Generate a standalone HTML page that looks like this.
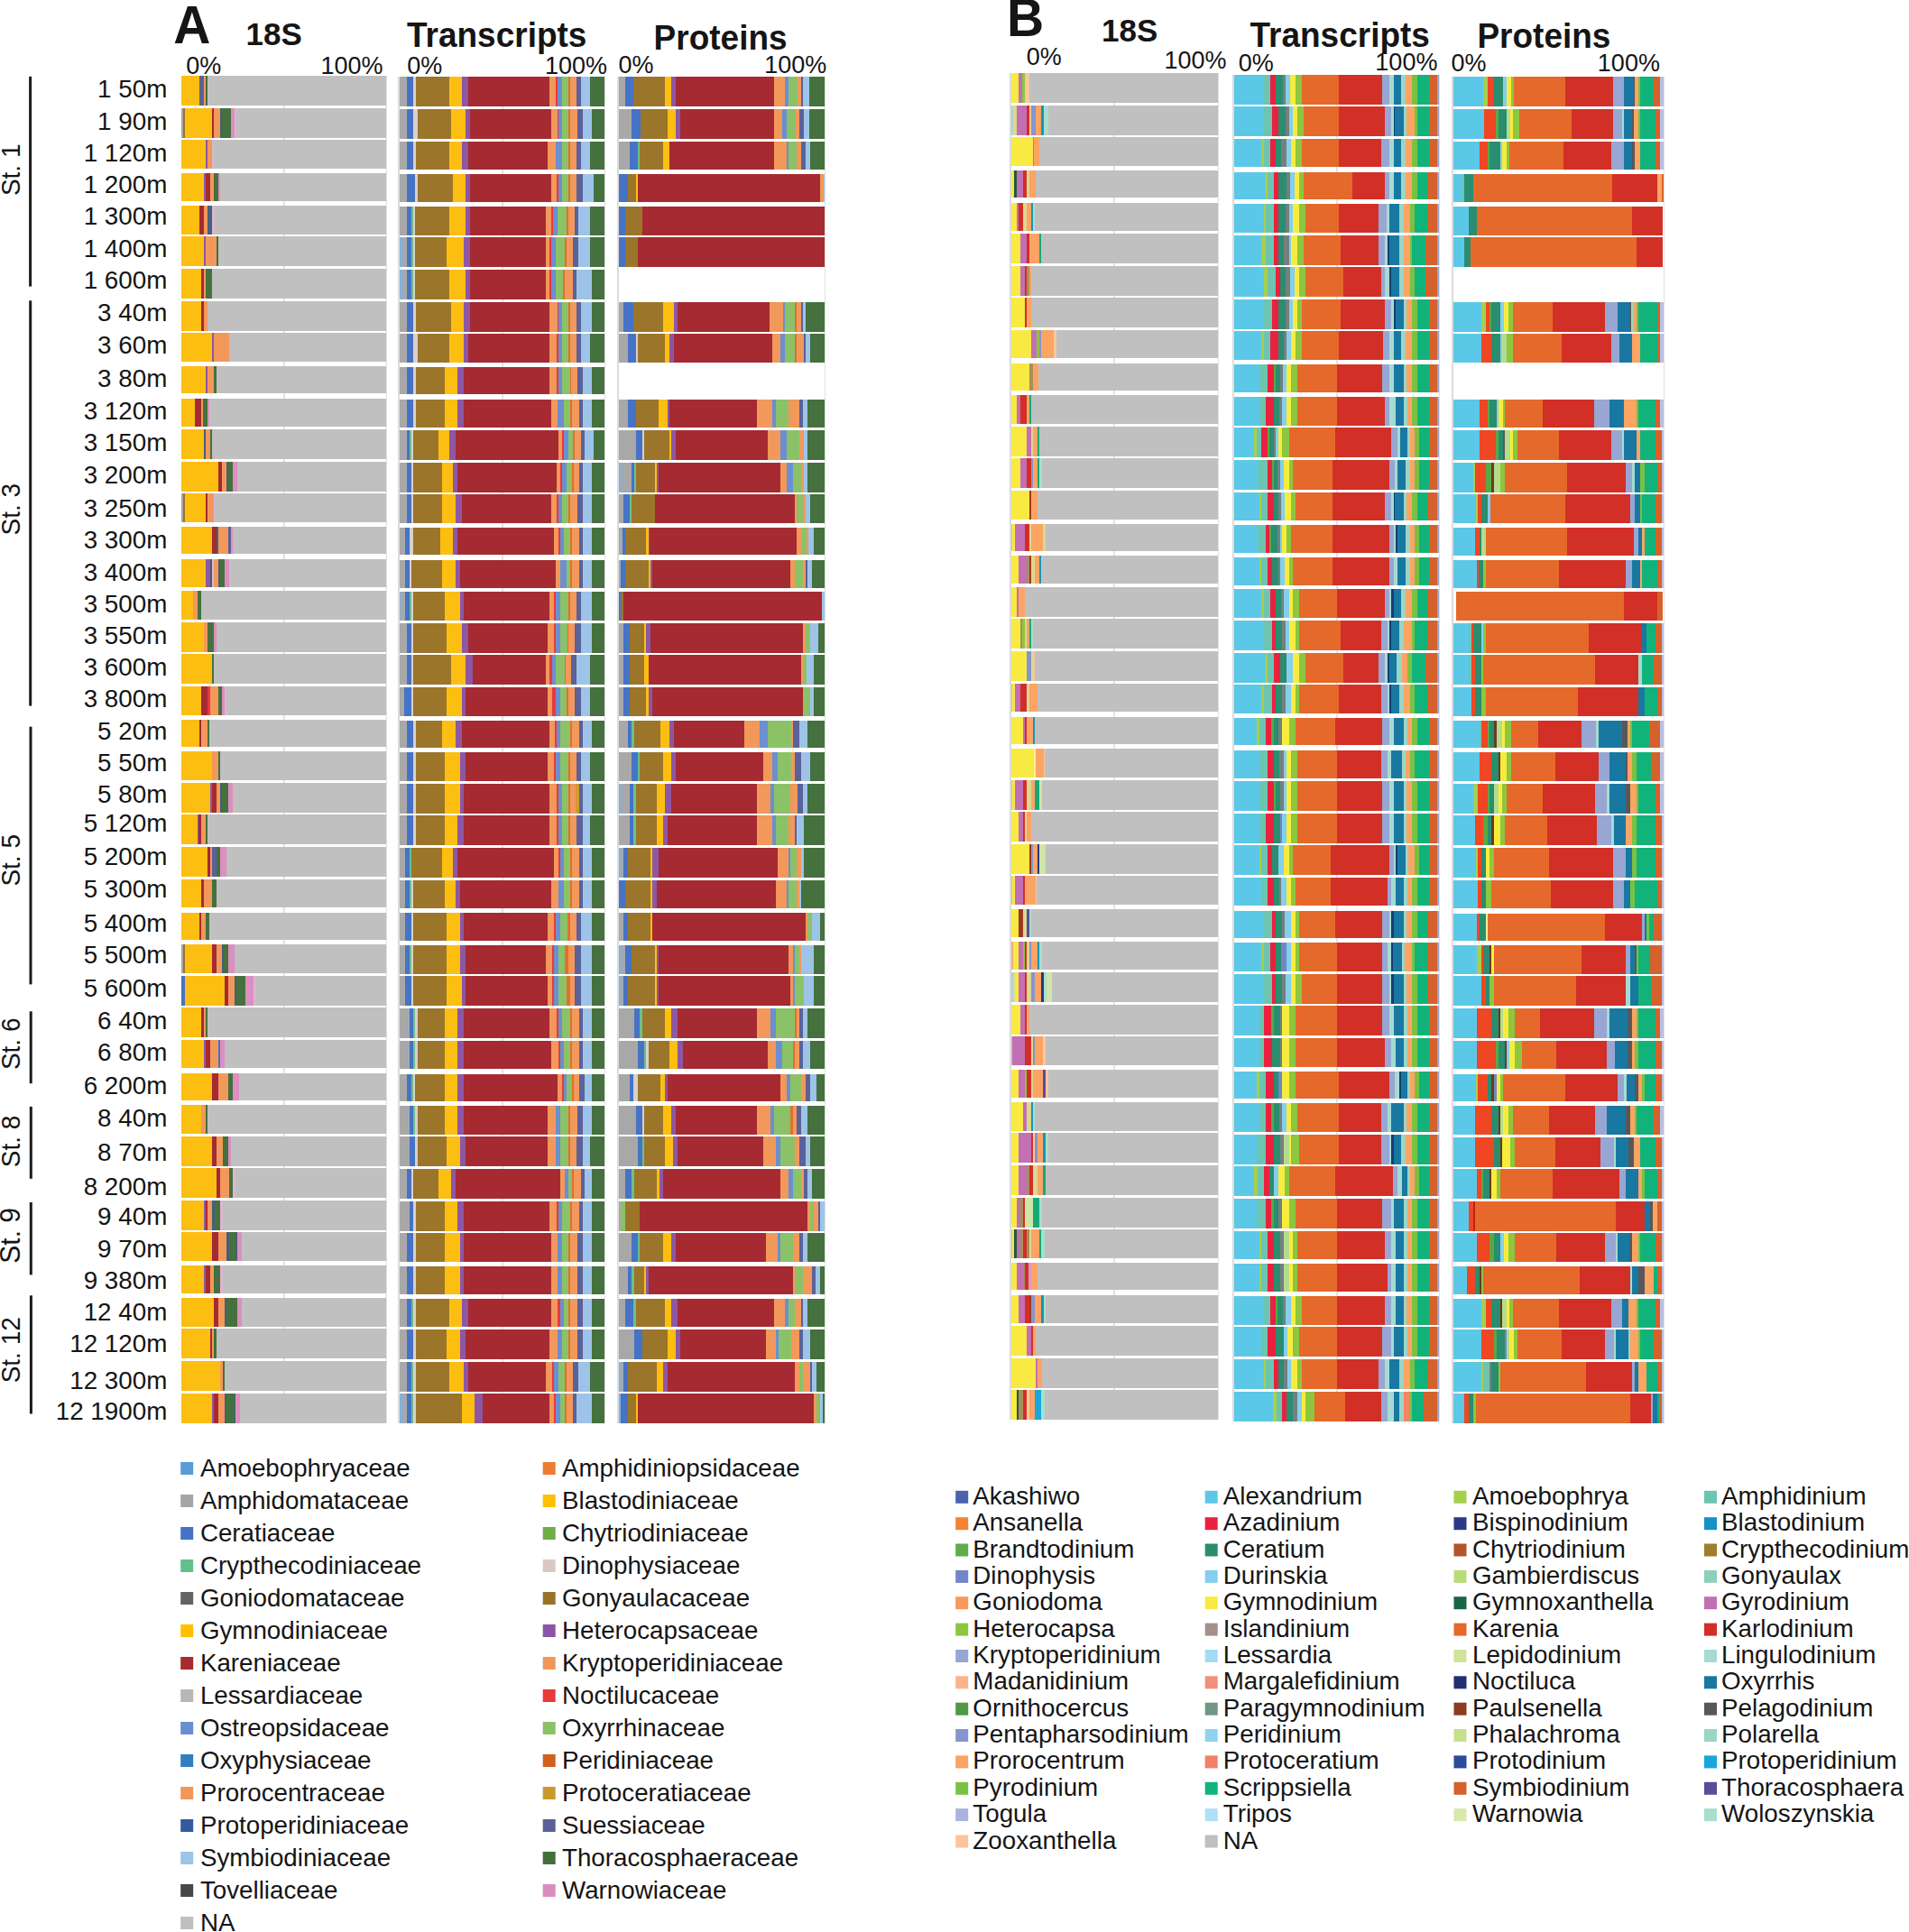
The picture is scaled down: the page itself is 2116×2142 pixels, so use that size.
<!DOCTYPE html>
<html><head><meta charset="utf-8"><title>Figure</title>
<style>
html,body{margin:0;padding:0;background:#fff}
#c{position:relative;width:2116px;height:2142px;overflow:hidden;background:#fff;font-family:"Liberation Sans",Arial,sans-serif}
.r{position:absolute}
.pf{position:absolute;box-sizing:border-box;border-left:2px solid #dcdcdc;border-right:1px solid #e0e0e0;background:linear-gradient(90deg,transparent calc(50% - 1px),#e2e2e2 calc(50% - 1px),#e2e2e2 calc(50% + 1px),transparent calc(50% + 1px))}
.pn{background:none}
.pa{border-left-color:transparent}
</style></head><body><div id="c">
<div class="pf pa" style="left:199.0px;top:84.2px;width:229.8px;height:1493.3px"></div>
<div class="r" style="left:201.0px;top:84.2px;width:226.8px;height:33.0px;background:linear-gradient(90deg,#fdbe12 0.0px 20.0px,#5b6199 20.0px 24.8px,#f2985b 24.8px 26.9px,#44713d 26.9px 28.9px,#c0c0c0 28.9px)"></div>
<div class="r" style="left:201.0px;top:119.8px;width:226.8px;height:33.0px;background:linear-gradient(90deg,#a6a6a6 0.0px 2.5px,#9b752a 2.5px 3.7px,#fdbe12 3.7px 34.0px,#a52a31 34.0px 36.0px,#f2985b 36.0px 43.1px,#44607a 43.1px 45.1px,#44713d 45.1px 54.5px,#dc8fc0 54.5px 59.3px,#dcb6cf 59.3px 60.9px,#c0c0c0 60.9px)"></div>
<div class="r" style="left:201.0px;top:155.4px;width:226.8px;height:31.7px;background:linear-gradient(90deg,#fdbe12 0.0px 27.1px,#8d57a4 27.1px 28.9px,#f2985b 28.9px 34.2px,#dcb6cf 34.2px 35.4px,#c0c0c0 35.4px)"></div>
<div class="r" style="left:201.0px;top:192.3px;width:226.8px;height:30.4px;background:linear-gradient(90deg,#fdbe12 0.0px 24.8px,#8d57a4 24.8px 26.9px,#a52a31 26.9px 31.9px,#f2985b 31.9px 36.0px,#44713d 36.0px 41.1px,#dc8fc0 41.1px 43.1px,#c0c0c0 43.1px)"></div>
<div class="r" style="left:201.0px;top:228.0px;width:226.8px;height:31.7px;background:linear-gradient(90deg,#fdbe12 0.0px 20.0px,#a52a31 20.0px 24.8px,#f2985b 24.8px 28.9px,#44607a 28.9px 34.0px,#dcb6cf 34.0px 36.6px,#c0c0c0 36.6px)"></div>
<div class="r" style="left:201.0px;top:262.3px;width:226.8px;height:33.0px;background:linear-gradient(90deg,#fdbe12 0.0px 24.8px,#8d57a4 24.8px 26.9px,#f2985b 26.9px 39.0px,#44713d 39.0px 41.1px,#c0c0c0 41.1px)"></div>
<div class="r" style="left:201.0px;top:297.9px;width:226.8px;height:33.0px;background:linear-gradient(90deg,#fdbe12 0.0px 22.4px,#a52a31 22.4px 24.8px,#f2985b 24.8px 27.1px,#44713d 27.1px 34.0px,#c0c0c0 34.0px)"></div>
<div class="r" style="left:201.0px;top:333.5px;width:226.8px;height:33.0px;background:linear-gradient(90deg,#fdbe12 0.0px 22.4px,#a52a31 22.4px 24.8px,#f2985b 24.8px 29.5px,#c0c0c0 29.5px)"></div>
<div class="r" style="left:201.0px;top:369.1px;width:226.8px;height:31.7px;background:linear-gradient(90deg,#fdbe12 0.0px 34.0px,#8d57a4 34.0px 36.0px,#f2985b 36.0px 52.8px,#c0c0c0 52.8px)"></div>
<div class="r" style="left:201.0px;top:406.0px;width:226.8px;height:30.4px;background:linear-gradient(90deg,#fdbe12 0.0px 27.1px,#8d57a4 27.1px 28.9px,#f2985b 28.9px 36.2px,#44713d 36.2px 38.6px,#c0c0c0 38.6px)"></div>
<div class="r" style="left:201.0px;top:441.7px;width:226.8px;height:31.7px;background:linear-gradient(90deg,#fdbe12 0.0px 15.3px,#a52a31 15.3px 22.0px,#f2985b 22.0px 24.4px,#44713d 24.4px 28.9px,#dc8fc0 28.9px 31.5px,#c0c0c0 31.5px)"></div>
<div class="r" style="left:201.0px;top:476.0px;width:226.8px;height:33.0px;background:linear-gradient(90deg,#fdbe12 0.0px 24.8px,#44607a 24.8px 26.9px,#f2985b 26.9px 31.9px,#44713d 31.9px 34.0px,#c0c0c0 34.0px)"></div>
<div class="r" style="left:201.0px;top:511.6px;width:226.8px;height:33.0px;background:linear-gradient(90deg,#fdbe12 0.0px 41.1px,#a52a31 41.1px 45.1px,#f2985b 45.1px 50.2px,#44607a 50.2px 52.2px,#44713d 52.2px 57.3px,#dc8fc0 57.3px 62.0px,#c0c0c0 62.0px)"></div>
<div class="r" style="left:201.0px;top:547.2px;width:226.8px;height:31.7px;background:linear-gradient(90deg,#a6a6a6 0.0px 2.5px,#9b752a 2.5px 3.7px,#fdbe12 3.7px 27.1px,#a52a31 27.1px 29.1px,#f2985b 29.1px 36.2px,#dcb6cf 36.2px 37.0px,#c0c0c0 37.0px)"></div>
<div class="r" style="left:201.0px;top:584.1px;width:226.8px;height:30.4px;background:linear-gradient(90deg,#fdbe12 0.0px 34.0px,#a52a31 34.0px 38.6px,#44607a 38.6px 41.1px,#f2985b 41.1px 52.4px,#5b6199 52.4px 54.9px,#dc8fc0 54.9px 57.3px,#c0c0c0 57.3px)"></div>
<div class="r" style="left:201.0px;top:619.7px;width:226.8px;height:31.1px;background:linear-gradient(90deg,#fdbe12 0.0px 27.1px,#8d57a4 27.1px 31.9px,#44607a 31.9px 34.0px,#dcb6cf 34.0px 36.2px,#f2985b 36.2px 40.7px,#44607a 40.7px 42.7px,#44713d 42.7px 47.8px,#dc8fc0 47.8px 52.8px,#c0c0c0 52.8px)"></div>
<div class="r" style="left:201.0px;top:654.7px;width:226.8px;height:32.4px;background:linear-gradient(90deg,#fdbe12 0.0px 13.3px,#f2985b 13.3px 17.7px,#44713d 17.7px 22.0px,#c0c0c0 22.0px)"></div>
<div class="r" style="left:201.0px;top:689.7px;width:226.8px;height:33.0px;background:linear-gradient(90deg,#fdbe12 0.0px 24.8px,#f2985b 24.8px 29.1px,#44713d 29.1px 36.0px,#dc8fc0 36.0px 38.6px,#c0c0c0 38.6px)"></div>
<div class="r" style="left:201.0px;top:725.3px;width:226.8px;height:33.0px;background:linear-gradient(90deg,#fdbe12 0.0px 34.0px,#44713d 34.0px 36.0px,#c0c0c0 36.0px)"></div>
<div class="r" style="left:201.0px;top:760.9px;width:226.8px;height:31.7px;background:linear-gradient(90deg,#fdbe12 0.0px 22.4px,#a52a31 22.4px 29.5px,#e8393c 29.5px 31.9px,#f2985b 31.9px 41.1px,#44713d 41.1px 45.1px,#dc8fc0 45.1px 47.8px,#dcb6cf 47.8px 49.8px,#c0c0c0 49.8px)"></div>
<div class="r" style="left:201.0px;top:797.8px;width:226.8px;height:30.4px;background:linear-gradient(90deg,#fdbe12 0.0px 20.0px,#a52a31 20.0px 22.0px,#f2985b 22.0px 29.1px,#44713d 29.1px 31.5px,#c0c0c0 31.5px)"></div>
<div class="r" style="left:201.0px;top:833.4px;width:226.8px;height:31.7px;background:linear-gradient(90deg,#fdbe12 0.0px 34.0px,#f2985b 34.0px 41.1px,#44713d 41.1px 43.1px,#c0c0c0 43.1px)"></div>
<div class="r" style="left:201.0px;top:867.8px;width:226.8px;height:33.0px;background:linear-gradient(90deg,#fdbe12 0.0px 31.9px,#8d57a4 31.9px 33.6px,#a52a31 33.6px 38.6px,#f2985b 38.6px 43.1px,#44607a 43.1px 45.1px,#44713d 45.1px 52.2px,#dc8fc0 52.2px 57.3px,#c0c0c0 57.3px)"></div>
<div class="r" style="left:201.0px;top:903.4px;width:226.8px;height:33.0px;background:linear-gradient(90deg,#fdbe12 0.0px 17.7px,#8d57a4 17.7px 19.4px,#a52a31 19.4px 22.0px,#f2985b 22.0px 26.9px,#44713d 26.9px 28.9px,#c0c0c0 28.9px)"></div>
<div class="r" style="left:201.0px;top:939.0px;width:226.8px;height:33.0px;background:linear-gradient(90deg,#fdbe12 0.0px 29.1px,#a52a31 29.1px 31.9px,#f2985b 31.9px 34.0px,#5b6199 34.0px 38.6px,#44713d 38.6px 43.1px,#dc8fc0 43.1px 50.2px,#c0c0c0 50.2px)"></div>
<div class="r" style="left:201.0px;top:974.6px;width:226.8px;height:31.7px;background:linear-gradient(90deg,#fdbe12 0.0px 22.4px,#a52a31 22.4px 24.8px,#f2985b 24.8px 34.0px,#44713d 34.0px 38.6px,#c0c0c0 38.6px)"></div>
<div class="r" style="left:201.0px;top:1011.5px;width:226.8px;height:30.4px;background:linear-gradient(90deg,#fdbe12 0.0px 20.0px,#a52a31 20.0px 22.0px,#f2985b 22.0px 26.9px,#44713d 26.9px 31.5px,#c0c0c0 31.5px)"></div>
<div class="r" style="left:201.0px;top:1047.1px;width:226.8px;height:31.7px;background:linear-gradient(90deg,#a6a6a6 0.0px 2.5px,#9b752a 2.5px 3.7px,#fdbe12 3.7px 34.0px,#a52a31 34.0px 38.6px,#f2985b 38.6px 45.1px,#44607a 45.1px 47.1px,#44713d 47.1px 52.2px,#dc8fc0 52.2px 59.3px,#c0c0c0 59.3px)"></div>
<div class="r" style="left:201.0px;top:1081.5px;width:226.8px;height:33.0px;background:linear-gradient(90deg,#4673c5 0.0px 3.7px,#fdbe12 3.7px 48.2px,#a52a31 48.2px 52.2px,#f2985b 52.2px 59.3px,#44607a 59.3px 61.4px,#44713d 61.4px 71.1px,#dc8fc0 71.1px 80.2px,#dcb6cf 80.2px 82.7px,#c0c0c0 82.7px)"></div>
<div class="r" style="left:201.0px;top:1117.1px;width:226.8px;height:33.0px;background:linear-gradient(90deg,#fdbe12 0.0px 22.4px,#a52a31 22.4px 24.8px,#f2985b 24.8px 27.1px,#44713d 27.1px 28.9px,#c0c0c0 28.9px)"></div>
<div class="r" style="left:201.0px;top:1152.7px;width:226.8px;height:31.7px;background:linear-gradient(90deg,#fdbe12 0.0px 24.8px,#8d57a4 24.8px 26.9px,#a52a31 26.9px 31.9px,#f2985b 31.9px 41.1px,#4673c5 41.1px 43.1px,#dc8fc0 43.1px 47.8px,#c0c0c0 47.8px)"></div>
<div class="r" style="left:201.0px;top:1189.6px;width:226.8px;height:30.4px;background:linear-gradient(90deg,#fdbe12 0.0px 34.0px,#a52a31 34.0px 41.1px,#f2985b 41.1px 52.4px,#44713d 52.4px 57.3px,#dc8fc0 57.3px 64.0px,#c0c0c0 64.0px)"></div>
<div class="r" style="left:201.0px;top:1225.2px;width:226.8px;height:31.7px;background:linear-gradient(90deg,#fdbe12 0.0px 22.4px,#f2985b 22.4px 26.9px,#44713d 26.9px 28.9px,#c0c0c0 28.9px)"></div>
<div class="r" style="left:201.0px;top:1259.5px;width:226.8px;height:33.0px;background:linear-gradient(90deg,#fdbe12 0.0px 34.0px,#a52a31 34.0px 38.6px,#f2985b 38.6px 45.7px,#44713d 45.7px 52.2px,#dc8fc0 52.2px 54.9px,#c0c0c0 54.9px)"></div>
<div class="r" style="left:201.0px;top:1295.2px;width:226.8px;height:33.0px;background:linear-gradient(90deg,#fdbe12 0.0px 38.6px,#a52a31 38.6px 43.1px,#f2985b 43.1px 52.8px,#44713d 52.8px 57.3px,#dcb6cf 57.3px 59.9px,#c0c0c0 59.9px)"></div>
<div class="r" style="left:201.0px;top:1330.8px;width:226.8px;height:33.0px;background:linear-gradient(90deg,#fdbe12 0.0px 24.8px,#8d57a4 24.8px 26.9px,#a52a31 26.9px 28.9px,#f2985b 28.9px 34.0px,#44607a 34.0px 36.6px,#44713d 36.6px 43.1px,#dcb6cf 43.1px 45.7px,#c0c0c0 45.7px)"></div>
<div class="r" style="left:201.0px;top:1366.4px;width:226.8px;height:31.7px;background:linear-gradient(90deg,#fdbe12 0.0px 34.0px,#a52a31 34.0px 41.1px,#f2985b 41.1px 50.2px,#44607a 50.2px 52.8px,#44713d 52.8px 59.9px,#44607a 59.9px 61.6px,#dc8fc0 61.6px 66.6px,#c0c0c0 66.6px)"></div>
<div class="r" style="left:201.0px;top:1403.3px;width:226.8px;height:30.4px;background:linear-gradient(90deg,#fdbe12 0.0px 24.8px,#8d57a4 24.8px 26.9px,#a52a31 26.9px 31.9px,#f2985b 31.9px 36.0px,#44713d 36.0px 43.1px,#dcb6cf 43.1px 45.7px,#c0c0c0 45.7px)"></div>
<div class="r" style="left:201.0px;top:1438.9px;width:226.8px;height:31.7px;background:linear-gradient(90deg,#fdbe12 0.0px 36.0px,#a52a31 36.0px 41.1px,#f2985b 41.1px 48.2px,#44607a 48.2px 50.2px,#44713d 50.2px 61.6px,#dc8fc0 61.6px 66.6px,#c0c0c0 66.6px)"></div>
<div class="r" style="left:201.0px;top:1473.2px;width:226.8px;height:33.0px;background:linear-gradient(90deg,#fdbe12 0.0px 31.9px,#a52a31 31.9px 34.0px,#f2985b 34.0px 36.0px,#44713d 36.0px 38.6px,#c0c0c0 38.6px)"></div>
<div class="r" style="left:201.0px;top:1508.9px;width:226.8px;height:33.0px;background:linear-gradient(90deg,#fdbe12 0.0px 43.1px,#f2985b 43.1px 46.3px,#44713d 46.3px 47.8px,#c0c0c0 47.8px)"></div>
<div class="r" style="left:201.0px;top:1544.5px;width:226.8px;height:33.0px;background:linear-gradient(90deg,#fdbe12 0.0px 34.0px,#8d57a4 34.0px 36.0px,#a52a31 36.0px 41.1px,#f2985b 41.1px 48.2px,#44607a 48.2px 50.2px,#44713d 50.2px 58.9px,#44607a 58.9px 59.9px,#dc8fc0 59.9px 64.6px,#c0c0c0 64.6px)"></div>
<div class="pf" style="left:441.1px;top:85.3px;width:229.8px;height:1493.0px"></div>
<div class="r" style="left:443.1px;top:85.3px;width:226.8px;height:33.0px;background:linear-gradient(90deg,#a8a8a8 0.0px 8.1px,#4673c5 8.1px 15.2px,#d9d0cb 15.2px 17.7px,#9b752a 17.7px 54.8px,#fdbe12 54.8px 69.0px,#8d57a4 69.0px 75.7px,#a52a31 75.7px 166.0px,#f2985b 166.0px 173.1px,#e8393c 173.1px 175.1px,#6b8fd0 175.1px 180.0px,#8bc268 180.0px 187.3px,#e0702c 187.3px 189.3px,#f2985b 189.3px 196.4px,#5b6199 196.4px 200.9px,#9dc4e8 200.9px 210.6px,#44713d 210.6px 226.8px)"></div>
<div class="r" style="left:443.1px;top:120.9px;width:226.8px;height:33.0px;background:linear-gradient(90deg,#a8a8a8 0.0px 8.1px,#4673c5 8.1px 15.2px,#d9d0cb 15.2px 20.3px,#9b752a 20.3px 56.8px,#fdbe12 56.8px 73.0px,#8d57a4 73.0px 78.1px,#a52a31 78.1px 168.4px,#f2985b 168.4px 174.5px,#e8393c 174.5px 175.5px,#6b8fd0 175.5px 180.0px,#8bc268 180.0px 187.3px,#e0702c 187.3px 189.3px,#f2985b 189.3px 196.8px,#5b6199 196.8px 203.3px,#9dc4e8 203.3px 213.0px,#44713d 213.0px 226.8px)"></div>
<div class="r" style="left:443.1px;top:156.5px;width:226.8px;height:31.7px;background:linear-gradient(90deg,#a8a8a8 0.0px 8.1px,#4673c5 8.1px 15.2px,#d9d0cb 15.2px 17.7px,#9b752a 17.7px 54.8px,#fdbe12 54.8px 69.0px,#8d57a4 69.0px 75.7px,#a52a31 75.7px 163.7px,#f2985b 163.7px 173.1px,#6b8fd0 173.1px 180.0px,#8bc268 180.0px 187.3px,#e0702c 187.3px 189.3px,#f2985b 189.3px 196.4px,#5b6199 196.4px 200.9px,#9dc4e8 200.9px 210.6px,#44713d 210.6px 226.8px)"></div>
<div class="r" style="left:443.1px;top:193.4px;width:226.8px;height:30.4px;background:linear-gradient(90deg,#a8a8a8 0.0px 8.1px,#4673c5 8.1px 16.8px,#d9d0cb 16.8px 19.7px,#9b752a 19.7px 58.8px,#fdbe12 58.8px 73.0px,#8d57a4 73.0px 78.1px,#a52a31 78.1px 168.4px,#f2985b 168.4px 173.5px,#e8393c 173.5px 175.5px,#6b8fd0 175.5px 180.0px,#8bc268 180.0px 187.3px,#e0702c 187.3px 189.3px,#f2985b 189.3px 196.4px,#5b6199 196.4px 203.3px,#9dc4e8 203.3px 215.1px,#44713d 215.1px 226.8px)"></div>
<div class="r" style="left:443.1px;top:229.0px;width:226.8px;height:31.7px;background:linear-gradient(90deg,#a8a8a8 0.0px 8.1px,#4673c5 8.1px 13.2px,#6cc08c 13.2px 15.2px,#d9d0cb 15.2px 17.2px,#9b752a 17.2px 54.8px,#fdbe12 54.8px 73.0px,#8d57a4 73.0px 78.1px,#a52a31 78.1px 161.7px,#f2985b 161.7px 168.4px,#e8393c 168.4px 170.4px,#6b8fd0 170.4px 175.1px,#8bc268 175.1px 184.6px,#e0702c 184.6px 186.7px,#f2985b 186.7px 194.2px,#5b6199 194.2px 198.4px,#9dc4e8 198.4px 210.6px,#44713d 210.6px 226.8px)"></div>
<div class="r" style="left:443.1px;top:263.3px;width:226.8px;height:33.0px;background:linear-gradient(90deg,#7fb2e2 0.0px 3.0px,#a8a8a8 3.0px 8.1px,#4673c5 8.1px 13.2px,#6cc08c 13.2px 15.2px,#d9d0cb 15.2px 17.2px,#9b752a 17.2px 52.3px,#fdbe12 52.3px 71.0px,#8d57a4 71.0px 78.1px,#a52a31 78.1px 161.7px,#f2985b 161.7px 166.4px,#e8393c 166.4px 168.4px,#6b8fd0 168.4px 173.1px,#8bc268 173.1px 182.6px,#e0702c 182.6px 184.6px,#f2985b 184.6px 191.7px,#5b6199 191.7px 198.4px,#9dc4e8 198.4px 210.6px,#44713d 210.6px 226.8px)"></div>
<div class="r" style="left:443.1px;top:299.0px;width:226.8px;height:33.0px;background:linear-gradient(90deg,#7fb2e2 0.0px 3.0px,#a8a8a8 3.0px 8.1px,#4673c5 8.1px 13.2px,#6cc08c 13.2px 15.2px,#d9d0cb 15.2px 17.2px,#9b752a 17.2px 54.8px,#fdbe12 54.8px 73.0px,#8d57a4 73.0px 78.1px,#a52a31 78.1px 161.7px,#f2985b 161.7px 166.4px,#e8393c 166.4px 168.4px,#6b8fd0 168.4px 173.1px,#8bc268 173.1px 180.6px,#e0702c 180.6px 182.6px,#f2985b 182.6px 191.7px,#5b6199 191.7px 196.2px,#9dc4e8 196.2px 213.0px,#44713d 213.0px 226.8px)"></div>
<div class="r" style="left:443.1px;top:334.6px;width:226.8px;height:33.0px;background:linear-gradient(90deg,#a8a8a8 0.0px 8.1px,#4673c5 8.1px 15.2px,#d9d0cb 15.2px 17.7px,#9b752a 17.7px 56.8px,#fdbe12 56.8px 71.0px,#8d57a4 71.0px 78.1px,#a52a31 78.1px 166.0px,#f2985b 166.0px 174.5px,#e8393c 174.5px 175.5px,#6b8fd0 175.5px 180.0px,#8bc268 180.0px 187.3px,#e0702c 187.3px 189.3px,#f2985b 189.3px 196.4px,#5b6199 196.4px 200.9px,#9dc4e8 200.9px 213.0px,#44713d 213.0px 226.8px)"></div>
<div class="r" style="left:443.1px;top:370.2px;width:226.8px;height:31.7px;background:linear-gradient(90deg,#a8a8a8 0.0px 8.1px,#4673c5 8.1px 15.2px,#d9d0cb 15.2px 20.3px,#9b752a 20.3px 54.8px,#fdbe12 54.8px 71.0px,#8d57a4 71.0px 75.7px,#a52a31 75.7px 166.0px,#f2985b 166.0px 173.5px,#e8393c 173.5px 175.5px,#6b8fd0 175.5px 180.0px,#8bc268 180.0px 187.3px,#e0702c 187.3px 189.3px,#f2985b 189.3px 196.4px,#5b6199 196.4px 200.9px,#9dc4e8 200.9px 210.6px,#44713d 210.6px 226.8px)"></div>
<div class="r" style="left:443.1px;top:407.1px;width:226.8px;height:30.4px;background:linear-gradient(90deg,#a8a8a8 0.0px 8.1px,#4673c5 8.1px 15.2px,#d9d0cb 15.2px 17.7px,#9b752a 17.7px 49.7px,#fdbe12 49.7px 63.9px,#8d57a4 63.9px 71.0px,#a52a31 71.0px 166.0px,#f2985b 166.0px 173.5px,#e8393c 173.5px 175.5px,#6b8fd0 175.5px 180.0px,#8bc268 180.0px 189.3px,#e0702c 189.3px 190.1px,#f2985b 190.1px 196.8px,#5b6199 196.8px 203.3px,#9dc4e8 203.3px 213.0px,#44713d 213.0px 226.8px)"></div>
<div class="r" style="left:443.1px;top:442.7px;width:226.8px;height:31.7px;background:linear-gradient(90deg,#a8a8a8 0.0px 8.1px,#4673c5 8.1px 15.2px,#d9d0cb 15.2px 17.7px,#9b752a 17.7px 49.7px,#fdbe12 49.7px 63.9px,#8d57a4 63.9px 71.0px,#a52a31 71.0px 168.4px,#f2985b 168.4px 175.1px,#6b8fd0 175.1px 182.0px,#8bc268 182.0px 189.3px,#e0702c 189.3px 191.3px,#f2985b 191.3px 198.8px,#5b6199 198.8px 203.3px,#9dc4e8 203.3px 213.0px,#44713d 213.0px 226.8px)"></div>
<div class="r" style="left:443.1px;top:477.0px;width:226.8px;height:33.0px;background:linear-gradient(90deg,#a8a8a8 0.0px 8.1px,#4673c5 8.1px 11.2px,#6cc08c 11.2px 12.8px,#d9d0cb 12.8px 15.2px,#9b752a 15.2px 43.0px,#fdbe12 43.0px 54.8px,#8d57a4 54.8px 61.9px,#a52a31 61.9px 175.5px,#f2985b 175.5px 180.0px,#e8393c 180.0px 182.0px,#6b8fd0 182.0px 186.7px,#8bc268 186.7px 191.7px,#e0702c 191.7px 193.8px,#f2985b 193.8px 200.9px,#5b6199 200.9px 205.3px,#9dc4e8 205.3px 215.1px,#44713d 215.1px 226.8px)"></div>
<div class="r" style="left:443.1px;top:512.6px;width:226.8px;height:33.0px;background:linear-gradient(90deg,#a8a8a8 0.0px 8.1px,#4673c5 8.1px 12.8px,#d9d0cb 12.8px 15.2px,#9b752a 15.2px 47.3px,#fdbe12 47.3px 59.4px,#8d57a4 59.4px 64.3px,#a52a31 64.3px 173.5px,#f2985b 173.5px 178.1px,#e8393c 178.1px 180.0px,#6b8fd0 180.0px 184.6px,#8bc268 184.6px 191.3px,#e0702c 191.3px 192.7px,#f2985b 192.7px 198.8px,#5b6199 198.8px 203.3px,#9dc4e8 203.3px 213.0px,#44713d 213.0px 226.8px)"></div>
<div class="r" style="left:443.1px;top:548.2px;width:226.8px;height:31.7px;background:linear-gradient(90deg,#a8a8a8 0.0px 8.1px,#4673c5 8.1px 12.8px,#d9d0cb 12.8px 15.2px,#9b752a 15.2px 47.3px,#fdbe12 47.3px 61.9px,#8d57a4 61.9px 69.0px,#a52a31 69.0px 168.4px,#f2985b 168.4px 173.5px,#e8393c 173.5px 175.5px,#6b8fd0 175.5px 180.0px,#8bc268 180.0px 187.3px,#e0702c 187.3px 189.3px,#f2985b 189.3px 196.8px,#5b6199 196.8px 203.3px,#9dc4e8 203.3px 213.0px,#44713d 213.0px 226.8px)"></div>
<div class="r" style="left:443.1px;top:585.1px;width:226.8px;height:30.4px;background:linear-gradient(90deg,#a8a8a8 0.0px 6.1px,#4673c5 6.1px 10.8px,#d9d0cb 10.8px 15.2px,#9b752a 15.2px 45.2px,#fdbe12 45.2px 59.4px,#8d57a4 59.4px 64.3px,#a52a31 64.3px 171.0px,#f2985b 171.0px 175.5px,#e8393c 175.5px 177.5px,#6b8fd0 177.5px 182.0px,#8bc268 182.0px 189.3px,#e0702c 189.3px 191.3px,#f2985b 191.3px 198.8px,#5b6199 198.8px 203.3px,#9dc4e8 203.3px 213.0px,#44713d 213.0px 226.8px)"></div>
<div class="r" style="left:443.1px;top:620.7px;width:226.8px;height:31.1px;background:linear-gradient(90deg,#a8a8a8 0.0px 6.1px,#4673c5 6.1px 10.8px,#d9d0cb 10.8px 12.8px,#9b752a 12.8px 47.3px,#fdbe12 47.3px 61.9px,#8d57a4 61.9px 66.5px,#a52a31 66.5px 173.1px,#f2985b 173.1px 178.1px,#6b8fd0 178.1px 184.6px,#8bc268 184.6px 189.3px,#e0702c 189.3px 191.3px,#f2985b 191.3px 198.8px,#5b6199 198.8px 203.3px,#9dc4e8 203.3px 213.0px,#44713d 213.0px 226.8px)"></div>
<div class="r" style="left:443.1px;top:655.7px;width:226.8px;height:32.4px;background:linear-gradient(90deg,#7fb2e2 0.0px 1.4px,#a8a8a8 1.4px 6.1px,#4673c5 6.1px 10.8px,#6cc08c 10.8px 12.8px,#d9d0cb 12.8px 15.2px,#9b752a 15.2px 49.7px,#fdbe12 49.7px 66.5px,#8d57a4 66.5px 71.0px,#a52a31 71.0px 166.0px,#f2985b 166.0px 171.0px,#e8393c 171.0px 173.1px,#6b8fd0 173.1px 178.1px,#8bc268 178.1px 187.3px,#e0702c 187.3px 189.3px,#f2985b 189.3px 196.4px,#5b6199 196.4px 200.9px,#9dc4e8 200.9px 213.0px,#44713d 213.0px 226.8px)"></div>
<div class="r" style="left:443.1px;top:690.7px;width:226.8px;height:33.0px;background:linear-gradient(90deg,#a8a8a8 0.0px 8.1px,#4673c5 8.1px 12.8px,#d9d0cb 12.8px 15.2px,#9b752a 15.2px 52.3px,#fdbe12 52.3px 69.0px,#8d57a4 69.0px 75.7px,#a52a31 75.7px 163.7px,#f2985b 163.7px 171.0px,#e8393c 171.0px 173.1px,#6b8fd0 173.1px 178.1px,#8bc268 178.1px 185.6px,#e0702c 185.6px 187.3px,#f2985b 187.3px 194.4px,#5b6199 194.4px 200.9px,#9dc4e8 200.9px 213.0px,#44713d 213.0px 226.8px)"></div>
<div class="r" style="left:443.1px;top:726.3px;width:226.8px;height:33.0px;background:linear-gradient(90deg,#a8a8a8 0.0px 8.1px,#4673c5 8.1px 12.8px,#d9d0cb 12.8px 15.2px,#9b752a 15.2px 56.8px,#fdbe12 56.8px 73.0px,#8d57a4 73.0px 80.5px,#a52a31 80.5px 161.7px,#f2985b 161.7px 166.4px,#e8393c 166.4px 168.8px,#6b8fd0 168.8px 173.1px,#8bc268 173.1px 182.6px,#e0702c 182.6px 184.0px,#f2985b 184.0px 189.7px,#5b6199 189.7px 196.4px,#9dc4e8 196.4px 210.6px,#44713d 210.6px 226.8px)"></div>
<div class="r" style="left:443.1px;top:761.9px;width:226.8px;height:31.7px;background:linear-gradient(90deg,#a8a8a8 0.0px 5.1px,#4673c5 5.1px 12.8px,#d9d0cb 12.8px 15.2px,#9b752a 15.2px 52.3px,#fdbe12 52.3px 69.0px,#8d57a4 69.0px 73.0px,#a52a31 73.0px 163.7px,#f2985b 163.7px 168.8px,#e8393c 168.8px 173.1px,#6b8fd0 173.1px 178.1px,#8bc268 178.1px 184.6px,#e0702c 184.6px 186.7px,#f2985b 186.7px 194.2px,#5b6199 194.2px 200.9px,#9dc4e8 200.9px 210.6px,#44713d 210.6px 226.8px)"></div>
<div class="r" style="left:443.1px;top:798.8px;width:226.8px;height:30.4px;background:linear-gradient(90deg,#a8a8a8 0.0px 8.1px,#4673c5 8.1px 15.2px,#d9d0cb 15.2px 17.7px,#9b752a 17.7px 47.3px,#fdbe12 47.3px 61.9px,#8d57a4 61.9px 69.0px,#a52a31 69.0px 166.0px,#f2985b 166.0px 172.4px,#e8393c 172.4px 173.5px,#6b8fd0 173.5px 178.1px,#8bc268 178.1px 189.3px,#e0702c 189.3px 191.3px,#f2985b 191.3px 198.8px,#5b6199 198.8px 203.3px,#9dc4e8 203.3px 213.0px,#44713d 213.0px 226.8px)"></div>
<div class="r" style="left:443.1px;top:834.4px;width:226.8px;height:31.7px;background:linear-gradient(90deg,#a8a8a8 0.0px 8.1px,#4673c5 8.1px 15.2px,#d9d0cb 15.2px 17.7px,#9b752a 17.7px 49.7px,#fdbe12 49.7px 66.5px,#8d57a4 66.5px 73.0px,#a52a31 73.0px 163.7px,#f2985b 163.7px 171.4px,#e8393c 171.4px 173.1px,#6b8fd0 173.1px 178.1px,#8bc268 178.1px 187.3px,#e0702c 187.3px 189.3px,#f2985b 189.3px 196.4px,#5b6199 196.4px 200.9px,#9dc4e8 200.9px 210.6px,#44713d 210.6px 226.8px)"></div>
<div class="r" style="left:443.1px;top:868.7px;width:226.8px;height:33.0px;background:linear-gradient(90deg,#a8a8a8 0.0px 8.1px,#4673c5 8.1px 15.2px,#d9d0cb 15.2px 17.7px,#9b752a 17.7px 49.7px,#fdbe12 49.7px 66.5px,#8d57a4 66.5px 71.0px,#a52a31 71.0px 166.0px,#f2985b 166.0px 173.5px,#e8393c 173.5px 175.5px,#6b8fd0 175.5px 180.0px,#8bc268 180.0px 187.3px,#e0702c 187.3px 189.3px,#f2985b 189.3px 194.8px,#d09a2e 194.8px 198.8px,#5b6199 198.8px 203.3px,#9dc4e8 203.3px 213.0px,#44713d 213.0px 226.8px)"></div>
<div class="r" style="left:443.1px;top:904.3px;width:226.8px;height:33.0px;background:linear-gradient(90deg,#a8a8a8 0.0px 8.1px,#4673c5 8.1px 15.2px,#d9d0cb 15.2px 17.7px,#9b752a 17.7px 49.7px,#fdbe12 49.7px 64.3px,#8d57a4 64.3px 71.0px,#a52a31 71.0px 166.0px,#f2985b 166.0px 173.5px,#e8393c 173.5px 175.5px,#6b8fd0 175.5px 180.0px,#8bc268 180.0px 187.3px,#e0702c 187.3px 189.3px,#f2985b 189.3px 196.4px,#5b6199 196.4px 203.3px,#9dc4e8 203.3px 210.6px,#44713d 210.6px 226.8px)"></div>
<div class="r" style="left:443.1px;top:939.9px;width:226.8px;height:33.0px;background:linear-gradient(90deg,#a8a8a8 0.0px 6.1px,#4673c5 6.1px 10.8px,#6cc08c 10.8px 13.2px,#9b752a 13.2px 47.3px,#fdbe12 47.3px 59.4px,#8d57a4 59.4px 64.3px,#a52a31 64.3px 171.0px,#f2985b 171.0px 175.5px,#e8393c 175.5px 177.5px,#6b8fd0 177.5px 182.0px,#8bc268 182.0px 189.3px,#e0702c 189.3px 191.3px,#f2985b 191.3px 198.8px,#5b6199 198.8px 203.3px,#9dc4e8 203.3px 213.0px,#44713d 213.0px 226.8px)"></div>
<div class="r" style="left:443.1px;top:975.5px;width:226.8px;height:31.7px;background:linear-gradient(90deg,#a8a8a8 0.0px 6.1px,#4673c5 6.1px 10.8px,#6cc08c 10.8px 12.8px,#d9d0cb 12.8px 15.2px,#9b752a 15.2px 49.7px,#fdbe12 49.7px 61.9px,#8d57a4 61.9px 66.5px,#a52a31 66.5px 168.4px,#f2985b 168.4px 175.5px,#6b8fd0 175.5px 182.0px,#8bc268 182.0px 189.3px,#e0702c 189.3px 191.3px,#f2985b 191.3px 198.8px,#5b6199 198.8px 203.3px,#9dc4e8 203.3px 213.0px,#44713d 213.0px 226.8px)"></div>
<div class="r" style="left:443.1px;top:1012.4px;width:226.8px;height:30.4px;background:linear-gradient(90deg,#a8a8a8 0.0px 6.1px,#4673c5 6.1px 12.8px,#d9d0cb 12.8px 15.2px,#9b752a 15.2px 52.3px,#fdbe12 52.3px 66.5px,#8d57a4 66.5px 71.0px,#a52a31 71.0px 163.7px,#f2985b 163.7px 171.0px,#e8393c 171.0px 173.1px,#6b8fd0 173.1px 178.1px,#8bc268 178.1px 185.6px,#e0702c 185.6px 189.3px,#f2985b 189.3px 196.4px,#5b6199 196.4px 200.9px,#9dc4e8 200.9px 213.0px,#44713d 213.0px 226.8px)"></div>
<div class="r" style="left:443.1px;top:1048.1px;width:226.8px;height:31.7px;background:linear-gradient(90deg,#a8a8a8 0.0px 6.1px,#4673c5 6.1px 10.8px,#6cc08c 10.8px 12.8px,#d9d0cb 12.8px 15.2px,#9b752a 15.2px 52.3px,#fdbe12 52.3px 66.5px,#8d57a4 66.5px 73.0px,#a52a31 73.0px 161.7px,#f2985b 161.7px 168.8px,#e8393c 168.8px 171.0px,#6b8fd0 171.0px 175.5px,#8bc268 175.5px 182.6px,#e0702c 182.6px 186.7px,#f2985b 186.7px 194.2px,#5b6199 194.2px 200.9px,#9dc4e8 200.9px 213.0px,#44713d 213.0px 226.8px)"></div>
<div class="r" style="left:443.1px;top:1082.4px;width:226.8px;height:33.0px;background:linear-gradient(90deg,#a8a8a8 0.0px 6.1px,#4673c5 6.1px 12.8px,#d9d0cb 12.8px 15.2px,#9b752a 15.2px 52.3px,#fdbe12 52.3px 69.0px,#8d57a4 69.0px 73.0px,#a52a31 73.0px 163.7px,#f2985b 163.7px 168.8px,#e8393c 168.8px 171.0px,#6b8fd0 171.0px 175.5px,#8bc268 175.5px 184.6px,#e0702c 184.6px 189.3px,#f2985b 189.3px 194.2px,#5b6199 194.2px 200.9px,#9dc4e8 200.9px 213.0px,#44713d 213.0px 226.8px)"></div>
<div class="r" style="left:443.1px;top:1118.0px;width:226.8px;height:33.0px;background:linear-gradient(90deg,#a8a8a8 0.0px 10.8px,#4673c5 10.8px 15.2px,#6cc08c 15.2px 17.2px,#d9d0cb 17.2px 19.7px,#9b752a 19.7px 49.7px,#fdbe12 49.7px 64.3px,#8d57a4 64.3px 71.0px,#a52a31 71.0px 166.0px,#f2985b 166.0px 173.5px,#e8393c 173.5px 175.5px,#6b8fd0 175.5px 180.0px,#8bc268 180.0px 189.3px,#e0702c 189.3px 191.3px,#f2985b 191.3px 198.8px,#5b6199 198.8px 203.3px,#9dc4e8 203.3px 213.0px,#44713d 213.0px 226.8px)"></div>
<div class="r" style="left:443.1px;top:1153.6px;width:226.8px;height:31.7px;background:linear-gradient(90deg,#a8a8a8 0.0px 10.8px,#4673c5 10.8px 15.2px,#6cc08c 15.2px 17.2px,#d9d0cb 17.2px 19.7px,#9b752a 19.7px 49.7px,#fdbe12 49.7px 64.3px,#8d57a4 64.3px 71.0px,#a52a31 71.0px 168.4px,#f2985b 168.4px 175.5px,#e8393c 175.5px 177.5px,#6b8fd0 177.5px 182.0px,#8bc268 182.0px 189.3px,#e0702c 189.3px 191.3px,#f2985b 191.3px 198.8px,#5b6199 198.8px 203.3px,#9dc4e8 203.3px 213.0px,#44713d 213.0px 226.8px)"></div>
<div class="r" style="left:443.1px;top:1190.5px;width:226.8px;height:30.4px;background:linear-gradient(90deg,#a8a8a8 0.0px 8.1px,#4673c5 8.1px 12.8px,#6cc08c 12.8px 15.2px,#d9d0cb 15.2px 17.2px,#9b752a 17.2px 49.7px,#fdbe12 49.7px 64.3px,#8d57a4 64.3px 71.0px,#a52a31 71.0px 175.1px,#f2985b 175.1px 180.0px,#e8393c 180.0px 182.0px,#6b8fd0 182.0px 184.6px,#8bc268 184.6px 191.3px,#e0702c 191.3px 193.3px,#f2985b 193.3px 198.8px,#5b6199 198.8px 205.3px,#9dc4e8 205.3px 213.0px,#44713d 213.0px 226.8px)"></div>
<div class="r" style="left:443.1px;top:1226.1px;width:226.8px;height:31.7px;background:linear-gradient(90deg,#a8a8a8 0.0px 10.8px,#4673c5 10.8px 15.2px,#6cc08c 15.2px 17.2px,#d9d0cb 17.2px 19.7px,#9b752a 19.7px 49.7px,#fdbe12 49.7px 64.3px,#8d57a4 64.3px 71.0px,#a52a31 71.0px 163.7px,#f2985b 163.7px 173.1px,#6b8fd0 173.1px 178.1px,#8bc268 178.1px 187.3px,#e0702c 187.3px 189.3px,#f2985b 189.3px 196.8px,#5b6199 196.8px 203.3px,#9dc4e8 203.3px 213.0px,#44713d 213.0px 226.8px)"></div>
<div class="r" style="left:443.1px;top:1260.4px;width:226.8px;height:33.0px;background:linear-gradient(90deg,#a8a8a8 0.0px 10.8px,#4673c5 10.8px 17.2px,#d9d0cb 17.2px 19.7px,#9b752a 19.7px 52.3px,#fdbe12 52.3px 66.5px,#8d57a4 66.5px 73.0px,#a52a31 73.0px 163.7px,#f2985b 163.7px 173.1px,#6b8fd0 173.1px 178.1px,#8bc268 178.1px 187.3px,#e0702c 187.3px 189.3px,#f2985b 189.3px 196.4px,#5b6199 196.4px 203.3px,#9dc4e8 203.3px 210.6px,#44713d 210.6px 226.8px)"></div>
<div class="r" style="left:443.1px;top:1296.0px;width:226.8px;height:33.0px;background:linear-gradient(90deg,#a8a8a8 0.0px 8.1px,#4673c5 8.1px 12.8px,#d9d0cb 12.8px 15.2px,#9b752a 15.2px 43.0px,#fdbe12 43.0px 56.8px,#8d57a4 56.8px 61.9px,#a52a31 61.9px 178.1px,#f2985b 178.1px 182.6px,#6b8fd0 182.6px 187.3px,#8bc268 187.3px 191.3px,#e0702c 191.3px 193.3px,#f2985b 193.3px 200.9px,#5b6199 200.9px 205.3px,#9dc4e8 205.3px 213.0px,#44713d 213.0px 226.8px)"></div>
<div class="r" style="left:443.1px;top:1331.6px;width:226.8px;height:33.0px;background:linear-gradient(90deg,#a8a8a8 0.0px 10.8px,#4673c5 10.8px 15.2px,#d9d0cb 15.2px 17.7px,#9b752a 17.7px 49.7px,#fdbe12 49.7px 64.3px,#8d57a4 64.3px 71.0px,#a52a31 71.0px 166.0px,#f2985b 166.0px 173.5px,#e8393c 173.5px 175.5px,#6b8fd0 175.5px 180.0px,#8bc268 180.0px 189.3px,#e0702c 189.3px 191.3px,#f2985b 191.3px 198.8px,#5b6199 198.8px 203.3px,#9dc4e8 203.3px 213.0px,#44713d 213.0px 226.8px)"></div>
<div class="r" style="left:443.1px;top:1367.2px;width:226.8px;height:31.7px;background:linear-gradient(90deg,#a8a8a8 0.0px 8.1px,#4673c5 8.1px 15.2px,#d9d0cb 15.2px 17.7px,#9b752a 17.7px 49.7px,#fdbe12 49.7px 66.5px,#8d57a4 66.5px 71.0px,#a52a31 71.0px 168.4px,#f2985b 168.4px 175.1px,#6b8fd0 175.1px 180.0px,#8bc268 180.0px 187.3px,#e0702c 187.3px 189.3px,#f2985b 189.3px 196.8px,#5b6199 196.8px 203.3px,#9dc4e8 203.3px 213.0px,#44713d 213.0px 226.8px)"></div>
<div class="r" style="left:443.1px;top:1404.2px;width:226.8px;height:30.4px;background:linear-gradient(90deg,#a8a8a8 0.0px 8.1px,#4673c5 8.1px 15.2px,#d9d0cb 15.2px 17.7px,#9b752a 17.7px 49.7px,#fdbe12 49.7px 66.5px,#8d57a4 66.5px 71.0px,#a52a31 71.0px 168.4px,#f2985b 168.4px 175.1px,#6b8fd0 175.1px 180.0px,#8bc268 180.0px 187.3px,#e0702c 187.3px 189.3px,#f2985b 189.3px 196.8px,#5b6199 196.8px 203.3px,#9dc4e8 203.3px 213.0px,#44713d 213.0px 226.8px)"></div>
<div class="r" style="left:443.1px;top:1439.8px;width:226.8px;height:31.7px;background:linear-gradient(90deg,#a8a8a8 0.0px 8.1px,#4673c5 8.1px 12.8px,#6cc08c 12.8px 15.2px,#d9d0cb 15.2px 17.7px,#9b752a 17.7px 54.8px,#fdbe12 54.8px 69.0px,#8d57a4 69.0px 75.7px,#a52a31 75.7px 168.4px,#f2985b 168.4px 175.1px,#e8393c 175.1px 177.5px,#6b8fd0 177.5px 182.0px,#8bc268 182.0px 187.3px,#e0702c 187.3px 189.3px,#f2985b 189.3px 196.8px,#5b6199 196.8px 203.3px,#9dc4e8 203.3px 213.0px,#44713d 213.0px 226.8px)"></div>
<div class="r" style="left:443.1px;top:1474.1px;width:226.8px;height:33.0px;background:linear-gradient(90deg,#a8a8a8 0.0px 8.1px,#4673c5 8.1px 15.2px,#d9d0cb 15.2px 17.7px,#9b752a 17.7px 52.3px,#fdbe12 52.3px 66.5px,#8d57a4 66.5px 73.0px,#a52a31 73.0px 166.0px,#f2985b 166.0px 175.1px,#6b8fd0 175.1px 180.0px,#8bc268 180.0px 187.3px,#e0702c 187.3px 189.3px,#f2985b 189.3px 196.8px,#5b6199 196.8px 203.3px,#9dc4e8 203.3px 213.0px,#44713d 213.0px 226.8px)"></div>
<div class="r" style="left:443.1px;top:1509.7px;width:226.8px;height:33.0px;background:linear-gradient(90deg,#a8a8a8 0.0px 8.1px,#4673c5 8.1px 12.8px,#6cc08c 12.8px 15.2px,#d9d0cb 15.2px 17.7px,#9b752a 17.7px 54.8px,#fdbe12 54.8px 71.0px,#8d57a4 71.0px 76.1px,#a52a31 76.1px 161.7px,#f2985b 161.7px 168.8px,#e8393c 168.8px 171.0px,#6b8fd0 171.0px 175.5px,#8bc268 175.5px 182.6px,#e0702c 182.6px 184.6px,#f2985b 184.6px 191.7px,#5b6199 191.7px 198.4px,#9dc4e8 198.4px 210.6px,#44713d 210.6px 226.8px)"></div>
<div class="r" style="left:443.1px;top:1545.3px;width:226.8px;height:33.0px;background:linear-gradient(90deg,#7fb2e2 0.0px 3.0px,#a8a8a8 3.0px 8.1px,#4673c5 8.1px 12.8px,#6cc08c 12.8px 15.2px,#d9d0cb 15.2px 17.7px,#9b752a 17.7px 69.0px,#fdbe12 69.0px 83.2px,#8d57a4 83.2px 91.9px,#a52a31 91.9px 166.0px,#f2985b 166.0px 171.0px,#e8393c 171.0px 173.1px,#6b8fd0 173.1px 178.1px,#8bc268 178.1px 182.6px,#e0702c 182.6px 184.6px,#f2985b 184.6px 191.7px,#5b6199 191.7px 196.4px,#9dc4e8 196.4px 213.0px,#44713d 213.0px 226.8px)"></div>
<div class="pf pn" style="left:684.1px;top:85.3px;width:230.8px;height:1493.0px"></div>
<div class="r" style="left:686.1px;top:85.3px;width:227.8px;height:33.0px;background:linear-gradient(90deg,#a8a8a8 0.0px 7.1px,#4673c5 7.1px 16.2px,#9b752a 16.2px 51.3px,#fdbe12 51.3px 58.4px,#8d57a4 58.4px 63.3px,#a52a31 63.3px 172.0px,#f2985b 172.0px 183.6px,#6b8fd0 183.6px 188.3px,#8bc268 188.3px 197.8px,#f2985b 197.8px 202.3px,#5b6199 202.3px 204.3px,#9dc4e8 204.3px 211.0px,#44713d 211.0px 227.8px)"></div>
<div class="r" style="left:686.1px;top:120.9px;width:227.8px;height:33.0px;background:linear-gradient(90deg,#a8a8a8 0.0px 14.2px,#4673c5 14.2px 23.7px,#9b752a 23.7px 53.8px,#fdbe12 53.8px 62.9px,#8d57a4 62.9px 68.0px,#a52a31 68.0px 172.0px,#f2985b 172.0px 181.0px,#6b8fd0 181.0px 185.6px,#8bc268 185.6px 195.8px,#f2985b 195.8px 199.8px,#5b6199 199.8px 204.9px,#9dc4e8 204.9px 211.0px,#44713d 211.0px 227.8px)"></div>
<div class="r" style="left:686.1px;top:156.5px;width:227.8px;height:31.7px;background:linear-gradient(90deg,#a8a8a8 0.0px 11.8px,#4673c5 11.8px 20.7px,#6cc08c 20.7px 22.7px,#9b752a 22.7px 48.7px,#fdbe12 48.7px 56.4px,#a52a31 56.4px 172.0px,#f2985b 172.0px 186.2px,#6b8fd0 186.2px 188.3px,#8bc268 188.3px 197.4px,#f2985b 197.4px 202.3px,#5b6199 202.3px 206.9px,#9dc4e8 206.9px 211.6px,#44713d 211.6px 227.8px)"></div>
<div class="r" style="left:686.1px;top:193.4px;width:227.8px;height:30.4px;background:linear-gradient(90deg,#4673c5 0.0px 9.7px,#9b752a 9.7px 18.7px,#fdbe12 18.7px 21.3px,#a52a31 21.3px 223.2px,#f2985b 223.2px 227.2px,#9dc4e8 227.2px 227.8px)"></div>
<div class="r" style="left:686.1px;top:229.0px;width:227.8px;height:31.7px;background:linear-gradient(90deg,#4673c5 0.0px 7.1px,#9b752a 7.1px 25.8px,#a52a31 25.8px 227.8px)"></div>
<div class="r" style="left:686.1px;top:263.3px;width:227.8px;height:33.0px;background:linear-gradient(90deg,#4673c5 0.0px 7.1px,#9b752a 7.1px 21.3px,#a52a31 21.3px 227.8px)"></div>
<div class="r" style="left:686.1px;top:334.6px;width:227.8px;height:33.0px;background:linear-gradient(90deg,#a8a8a8 0.0px 5.1px,#4673c5 5.1px 16.2px,#9b752a 16.2px 48.7px,#fdbe12 48.7px 60.9px,#8d57a4 60.9px 65.5px,#a52a31 65.5px 167.4px,#f2985b 167.4px 181.6px,#6b8fd0 181.6px 184.2px,#8bc268 184.2px 195.4px,#e0702c 195.4px 197.4px,#f2985b 197.4px 202.3px,#5b6199 202.3px 204.3px,#9dc4e8 204.3px 206.9px,#44713d 206.9px 227.8px)"></div>
<div class="r" style="left:686.1px;top:370.2px;width:227.8px;height:31.7px;background:linear-gradient(90deg,#a8a8a8 0.0px 9.7px,#4673c5 9.7px 18.7px,#d9d0cb 18.7px 21.3px,#9b752a 21.3px 51.3px,#fdbe12 51.3px 56.4px,#8d57a4 56.4px 60.9px,#a52a31 60.9px 170.0px,#f2985b 170.0px 178.9px,#6b8fd0 178.9px 184.2px,#8bc268 184.2px 195.4px,#e0702c 195.4px 197.4px,#f2985b 197.4px 204.9px,#5b6199 204.9px 206.9px,#9dc4e8 206.9px 211.6px,#44713d 211.6px 227.8px)"></div>
<div class="r" style="left:686.1px;top:442.7px;width:227.8px;height:31.7px;background:linear-gradient(90deg,#a8a8a8 0.0px 9.7px,#4673c5 9.7px 18.7px,#9b752a 18.7px 44.2px,#fdbe12 44.2px 53.8px,#8d57a4 53.8px 56.4px,#a52a31 56.4px 153.2px,#f2985b 153.2px 170.0px,#6b8fd0 170.0px 174.1px,#8bc268 174.1px 188.3px,#f2985b 188.3px 199.8px,#5b6199 199.8px 204.3px,#9dc4e8 204.3px 209.0px,#44713d 209.0px 227.8px)"></div>
<div class="r" style="left:686.1px;top:477.0px;width:227.8px;height:33.0px;background:linear-gradient(90deg,#a8a8a8 0.0px 18.7px,#4673c5 18.7px 25.8px,#d9d0cb 25.8px 28.0px,#9b752a 28.0px 55.8px,#fdbe12 55.8px 58.4px,#8d57a4 58.4px 63.3px,#a52a31 63.3px 164.9px,#f2985b 164.9px 178.9px,#6b8fd0 178.9px 185.6px,#8bc268 185.6px 199.8px,#f2985b 199.8px 204.9px,#9dc4e8 204.9px 209.0px,#44713d 209.0px 227.8px)"></div>
<div class="r" style="left:686.1px;top:512.6px;width:227.8px;height:33.0px;background:linear-gradient(90deg,#7fb2e2 0.0px 2.0px,#a8a8a8 2.0px 14.2px,#4673c5 14.2px 16.6px,#6cc08c 16.6px 18.7px,#9b752a 18.7px 39.6px,#fdbe12 39.6px 42.0px,#8d57a4 42.0px 44.2px,#a52a31 44.2px 178.9px,#f2985b 178.9px 185.6px,#6b8fd0 185.6px 192.7px,#8bc268 192.7px 202.3px,#f2985b 202.3px 204.9px,#9dc4e8 204.9px 209.0px,#44713d 209.0px 227.8px)"></div>
<div class="r" style="left:686.1px;top:548.2px;width:227.8px;height:31.7px;background:linear-gradient(90deg,#a8a8a8 0.0px 5.1px,#4673c5 5.1px 12.2px,#6cc08c 12.2px 14.2px,#9b752a 14.2px 39.6px,#a52a31 39.6px 195.4px,#f2985b 195.4px 197.4px,#8bc268 197.4px 203.9px,#f2985b 203.9px 206.9px,#9dc4e8 206.9px 211.6px,#44713d 211.6px 227.8px)"></div>
<div class="r" style="left:686.1px;top:585.1px;width:227.8px;height:30.4px;background:linear-gradient(90deg,#a8a8a8 0.0px 4.1px,#4673c5 4.1px 7.1px,#9b752a 7.1px 30.4px,#fdbe12 30.4px 32.9px,#8d57a4 32.9px 34.5px,#a52a31 34.5px 197.4px,#f2985b 197.4px 202.3px,#8bc268 202.3px 208.0px,#f2985b 208.0px 209.6px,#9dc4e8 209.6px 216.1px,#44713d 216.1px 227.8px)"></div>
<div class="r" style="left:686.1px;top:620.7px;width:227.8px;height:31.1px;background:linear-gradient(90deg,#a8a8a8 0.0px 2.4px,#4673c5 2.4px 7.1px,#9b752a 7.1px 32.9px,#fdbe12 32.9px 35.1px,#8d57a4 35.1px 36.9px,#a52a31 36.9px 190.3px,#f2985b 190.3px 195.4px,#8bc268 195.4px 203.9px,#f2985b 203.9px 206.9px,#5b6199 206.9px 208.6px,#9dc4e8 208.6px 214.0px,#44713d 214.0px 227.8px)"></div>
<div class="r" style="left:686.1px;top:655.7px;width:227.8px;height:32.4px;background:linear-gradient(90deg,#4673c5 0.0px 2.4px,#9b752a 2.4px 4.7px,#a52a31 4.7px 225.2px,#9dc4e8 225.2px 227.8px)"></div>
<div class="r" style="left:686.1px;top:690.7px;width:227.8px;height:33.0px;background:linear-gradient(90deg,#a8a8a8 0.0px 5.1px,#4673c5 5.1px 11.8px,#9b752a 11.8px 28.0px,#fdbe12 28.0px 30.4px,#8d57a4 30.4px 35.1px,#a52a31 35.1px 204.3px,#f2985b 204.3px 206.9px,#8bc268 206.9px 212.0px,#9dc4e8 212.0px 220.7px,#44713d 220.7px 227.8px)"></div>
<div class="r" style="left:686.1px;top:726.3px;width:227.8px;height:33.0px;background:linear-gradient(90deg,#a8a8a8 0.0px 5.1px,#4673c5 5.1px 11.8px,#9b752a 11.8px 28.0px,#fdbe12 28.0px 32.9px,#a52a31 32.9px 202.3px,#f2985b 202.3px 204.3px,#8bc268 204.3px 208.0px,#9dc4e8 208.0px 216.1px,#44713d 216.1px 227.8px)"></div>
<div class="r" style="left:686.1px;top:761.9px;width:227.8px;height:31.7px;background:linear-gradient(90deg,#a8a8a8 0.0px 5.1px,#4673c5 5.1px 11.8px,#9b752a 11.8px 30.4px,#fdbe12 30.4px 32.9px,#8d57a4 32.9px 37.5px,#a52a31 37.5px 204.3px,#8bc268 204.3px 212.0px,#9dc4e8 212.0px 216.1px,#44713d 216.1px 227.8px)"></div>
<div class="r" style="left:686.1px;top:798.8px;width:227.8px;height:30.4px;background:linear-gradient(90deg,#a8a8a8 0.0px 9.7px,#4673c5 9.7px 14.2px,#6cc08c 14.2px 16.6px,#9b752a 16.6px 46.3px,#fdbe12 46.3px 55.8px,#8d57a4 55.8px 60.9px,#a52a31 60.9px 139.0px,#f2985b 139.0px 155.6px,#6b8fd0 155.6px 164.9px,#8bc268 164.9px 190.7px,#f2985b 190.7px 193.1px,#5b6199 193.1px 199.8px,#9dc4e8 199.8px 209.0px,#44713d 209.0px 227.8px)"></div>
<div class="r" style="left:686.1px;top:834.4px;width:227.8px;height:31.7px;background:linear-gradient(90deg,#a8a8a8 0.0px 14.2px,#4673c5 14.2px 20.7px,#6cc08c 20.7px 23.3px,#9b752a 23.3px 48.7px,#fdbe12 48.7px 58.4px,#8d57a4 58.4px 63.3px,#a52a31 63.3px 160.3px,#f2985b 160.3px 170.0px,#6b8fd0 170.0px 176.5px,#8bc268 176.5px 190.7px,#f2985b 190.7px 195.4px,#5b6199 195.4px 202.3px,#9dc4e8 202.3px 211.6px,#44713d 211.6px 227.8px)"></div>
<div class="r" style="left:686.1px;top:868.7px;width:227.8px;height:33.0px;background:linear-gradient(90deg,#7fb2e2 0.0px 2.4px,#a8a8a8 2.4px 11.8px,#4673c5 11.8px 16.2px,#6cc08c 16.2px 18.7px,#9b752a 18.7px 42.0px,#fdbe12 42.0px 51.3px,#8d57a4 51.3px 58.4px,#a52a31 58.4px 153.2px,#f2985b 153.2px 167.8px,#6b8fd0 167.8px 172.0px,#8bc268 172.0px 190.3px,#f2985b 190.3px 197.8px,#5b6199 197.8px 204.3px,#9dc4e8 204.3px 209.0px,#44713d 209.0px 227.8px)"></div>
<div class="r" style="left:686.1px;top:904.3px;width:227.8px;height:33.0px;background:linear-gradient(90deg,#a8a8a8 0.0px 11.8px,#4673c5 11.8px 16.2px,#6cc08c 16.2px 18.7px,#9b752a 18.7px 42.0px,#fdbe12 42.0px 48.7px,#8d57a4 48.7px 53.8px,#a52a31 53.8px 153.2px,#f2985b 153.2px 170.0px,#6b8fd0 170.0px 174.1px,#8bc268 174.1px 188.3px,#f2985b 188.3px 195.4px,#5b6199 195.4px 197.4px,#9dc4e8 197.4px 204.9px,#44713d 204.9px 227.8px)"></div>
<div class="r" style="left:686.1px;top:939.9px;width:227.8px;height:33.0px;background:linear-gradient(90deg,#7fb2e2 0.0px 2.4px,#a8a8a8 2.4px 4.7px,#4673c5 4.7px 9.7px,#9b752a 9.7px 35.1px,#fdbe12 35.1px 37.5px,#8d57a4 37.5px 44.2px,#a52a31 44.2px 176.5px,#f2985b 176.5px 188.3px,#6b8fd0 188.3px 190.3px,#8bc268 190.3px 197.4px,#f2985b 197.4px 202.3px,#9dc4e8 202.3px 204.9px,#44713d 204.9px 227.8px)"></div>
<div class="r" style="left:686.1px;top:975.5px;width:227.8px;height:31.7px;background:linear-gradient(90deg,#4673c5 0.0px 7.1px,#9b752a 7.1px 35.1px,#fdbe12 35.1px 37.5px,#8d57a4 37.5px 42.0px,#a52a31 42.0px 174.1px,#f2985b 174.1px 185.6px,#6b8fd0 185.6px 188.3px,#8bc268 188.3px 197.4px,#f2985b 197.4px 199.8px,#9dc4e8 199.8px 202.3px,#44713d 202.3px 227.8px)"></div>
<div class="r" style="left:686.1px;top:1012.4px;width:227.8px;height:30.4px;background:linear-gradient(90deg,#a8a8a8 0.0px 4.7px,#4673c5 4.7px 9.7px,#9b752a 9.7px 35.1px,#fdbe12 35.1px 37.5px,#a52a31 37.5px 206.9px,#f2985b 206.9px 209.0px,#8bc268 209.0px 214.0px,#9dc4e8 214.0px 223.2px,#44713d 223.2px 227.8px)"></div>
<div class="r" style="left:686.1px;top:1048.1px;width:227.8px;height:31.7px;background:linear-gradient(90deg,#7fb2e2 0.0px 2.0px,#a8a8a8 2.0px 7.1px,#4673c5 7.1px 14.2px,#9b752a 14.2px 39.6px,#fdbe12 39.6px 42.0px,#8d57a4 42.0px 44.2px,#a52a31 44.2px 188.3px,#f2985b 188.3px 193.1px,#6b8fd0 193.1px 195.4px,#8bc268 195.4px 199.8px,#f2985b 199.8px 202.3px,#9dc4e8 202.3px 216.1px,#44713d 216.1px 227.8px)"></div>
<div class="r" style="left:686.1px;top:1082.4px;width:227.8px;height:33.0px;background:linear-gradient(90deg,#7fb2e2 0.0px 2.0px,#a8a8a8 2.0px 4.7px,#4673c5 4.7px 9.7px,#9b752a 9.7px 39.6px,#fdbe12 39.6px 42.0px,#8d57a4 42.0px 44.2px,#a52a31 44.2px 190.3px,#f2985b 190.3px 193.1px,#6b8fd0 193.1px 195.4px,#8bc268 195.4px 204.9px,#9dc4e8 204.9px 216.1px,#44713d 216.1px 227.8px)"></div>
<div class="r" style="left:686.1px;top:1118.0px;width:227.8px;height:33.0px;background:linear-gradient(90deg,#a8a8a8 0.0px 16.6px,#4673c5 16.6px 23.3px,#6cc08c 23.3px 25.8px,#9b752a 25.8px 51.3px,#fdbe12 51.3px 58.4px,#8d57a4 58.4px 65.5px,#a52a31 65.5px 153.2px,#f2985b 153.2px 167.8px,#6b8fd0 167.8px 174.1px,#8bc268 174.1px 195.4px,#e0702c 195.4px 197.4px,#f2985b 197.4px 199.8px,#5b6199 199.8px 204.3px,#9dc4e8 204.3px 209.0px,#44713d 209.0px 227.8px)"></div>
<div class="r" style="left:686.1px;top:1153.6px;width:227.8px;height:31.7px;background:linear-gradient(90deg,#a8a8a8 0.0px 21.3px,#4673c5 21.3px 28.0px,#6cc08c 28.0px 30.4px,#d9d0cb 30.4px 32.9px,#9b752a 32.9px 55.8px,#fdbe12 55.8px 65.5px,#8d57a4 65.5px 70.6px,#a52a31 70.6px 164.9px,#f2985b 164.9px 174.1px,#6b8fd0 174.1px 181.0px,#8bc268 181.0px 193.1px,#e0702c 193.1px 195.4px,#f2985b 195.4px 199.8px,#5b6199 199.8px 204.3px,#9dc4e8 204.3px 211.6px,#44713d 211.6px 227.8px)"></div>
<div class="r" style="left:686.1px;top:1190.5px;width:227.8px;height:30.4px;background:linear-gradient(90deg,#a8a8a8 0.0px 11.8px,#4673c5 11.8px 16.2px,#d9d0cb 16.2px 21.3px,#9b752a 21.3px 46.3px,#fdbe12 46.3px 51.3px,#8d57a4 51.3px 53.8px,#a52a31 53.8px 178.9px,#f2985b 178.9px 185.6px,#6b8fd0 185.6px 190.3px,#8bc268 190.3px 202.3px,#f2985b 202.3px 206.9px,#5b6199 206.9px 211.6px,#9dc4e8 211.6px 218.7px,#44713d 218.7px 227.8px)"></div>
<div class="r" style="left:686.1px;top:1226.1px;width:227.8px;height:31.7px;background:linear-gradient(90deg,#a8a8a8 0.0px 18.7px,#4673c5 18.7px 25.8px,#d9d0cb 25.8px 28.0px,#9b752a 28.0px 48.7px,#fdbe12 48.7px 58.4px,#8d57a4 58.4px 63.3px,#a52a31 63.3px 153.2px,#f2985b 153.2px 167.8px,#6b8fd0 167.8px 172.0px,#8bc268 172.0px 190.3px,#e0702c 190.3px 192.7px,#f2985b 192.7px 197.4px,#5b6199 197.4px 202.3px,#9dc4e8 202.3px 209.0px,#44713d 209.0px 227.8px)"></div>
<div class="r" style="left:686.1px;top:1260.4px;width:227.8px;height:33.0px;background:linear-gradient(90deg,#a8a8a8 0.0px 21.3px,#4673c5 21.3px 25.8px,#6cc08c 25.8px 28.0px,#9b752a 28.0px 51.3px,#fdbe12 51.3px 60.5px,#8d57a4 60.5px 65.5px,#a52a31 65.5px 160.3px,#f2985b 160.3px 174.1px,#6b8fd0 174.1px 178.9px,#8bc268 178.9px 195.4px,#f2985b 195.4px 199.8px,#5b6199 199.8px 206.9px,#9dc4e8 206.9px 211.6px,#44713d 211.6px 227.8px)"></div>
<div class="r" style="left:686.1px;top:1296.0px;width:227.8px;height:33.0px;background:linear-gradient(90deg,#a8a8a8 0.0px 7.1px,#4673c5 7.1px 14.2px,#6cc08c 14.2px 16.6px,#9b752a 16.6px 42.0px,#fdbe12 42.0px 44.6px,#8d57a4 44.6px 48.7px,#a52a31 48.7px 178.9px,#f2985b 178.9px 188.3px,#6b8fd0 188.3px 192.7px,#8bc268 192.7px 202.3px,#f2985b 202.3px 204.9px,#5b6199 204.9px 209.0px,#9dc4e8 209.0px 214.0px,#44713d 214.0px 227.8px)"></div>
<div class="r" style="left:686.1px;top:1331.6px;width:227.8px;height:33.0px;background:linear-gradient(90deg,#a8a8a8 0.0px 2.4px,#8bc268 2.4px 7.1px,#9b752a 7.1px 23.3px,#a52a31 23.3px 209.0px,#f2985b 209.0px 211.6px,#8bc268 211.6px 216.5px,#f2985b 216.5px 220.7px,#5b6199 220.7px 223.2px,#9dc4e8 223.2px 227.8px)"></div>
<div class="r" style="left:686.1px;top:1367.2px;width:227.8px;height:31.7px;background:linear-gradient(90deg,#a8a8a8 0.0px 14.2px,#4673c5 14.2px 20.7px,#6cc08c 20.7px 23.3px,#9b752a 23.3px 48.7px,#fdbe12 48.7px 58.4px,#8d57a4 58.4px 63.3px,#a52a31 63.3px 162.7px,#f2985b 162.7px 176.5px,#6b8fd0 176.5px 178.9px,#8bc268 178.9px 193.1px,#f2985b 193.1px 199.8px,#5b6199 199.8px 204.3px,#9dc4e8 204.3px 209.0px,#44713d 209.0px 227.8px)"></div>
<div class="r" style="left:686.1px;top:1404.2px;width:227.8px;height:30.4px;background:linear-gradient(90deg,#a8a8a8 0.0px 9.7px,#4673c5 9.7px 14.2px,#6cc08c 14.2px 16.6px,#9b752a 16.6px 28.0px,#fdbe12 28.0px 30.4px,#8d57a4 30.4px 32.9px,#a52a31 32.9px 192.7px,#f2985b 192.7px 195.4px,#8bc268 195.4px 204.3px,#f2985b 204.3px 214.0px,#5b6199 214.0px 218.1px,#9dc4e8 218.1px 223.2px,#44713d 223.2px 227.8px)"></div>
<div class="r" style="left:686.1px;top:1439.8px;width:227.8px;height:31.7px;background:linear-gradient(90deg,#a8a8a8 0.0px 7.1px,#4673c5 7.1px 16.2px,#6cc08c 16.2px 18.7px,#9b752a 18.7px 51.3px,#fdbe12 51.3px 58.4px,#8d57a4 58.4px 65.5px,#a52a31 65.5px 172.0px,#f2985b 172.0px 183.6px,#6b8fd0 183.6px 188.3px,#8bc268 188.3px 195.4px,#f2985b 195.4px 202.3px,#5b6199 202.3px 204.3px,#9dc4e8 204.3px 209.0px,#44713d 209.0px 227.8px)"></div>
<div class="r" style="left:686.1px;top:1474.1px;width:227.8px;height:33.0px;background:linear-gradient(90deg,#a8a8a8 0.0px 16.6px,#4673c5 16.6px 25.8px,#9b752a 25.8px 53.8px,#fdbe12 53.8px 62.9px,#8d57a4 62.9px 68.0px,#a52a31 68.0px 162.7px,#f2985b 162.7px 174.1px,#6b8fd0 174.1px 177.1px,#8bc268 177.1px 190.7px,#f2985b 190.7px 199.8px,#5b6199 199.8px 204.3px,#9dc4e8 204.3px 211.6px,#44713d 211.6px 227.8px)"></div>
<div class="r" style="left:686.1px;top:1509.7px;width:227.8px;height:33.0px;background:linear-gradient(90deg,#7fb2e2 0.0px 2.4px,#a8a8a8 2.4px 4.7px,#4673c5 4.7px 9.7px,#9b752a 9.7px 42.0px,#fdbe12 42.0px 48.7px,#8d57a4 48.7px 53.8px,#a52a31 53.8px 195.4px,#f2985b 195.4px 199.8px,#8bc268 199.8px 204.3px,#f2985b 204.3px 211.6px,#5b6199 211.6px 213.6px,#9dc4e8 213.6px 218.7px,#44713d 218.7px 227.8px)"></div>
<div class="r" style="left:686.1px;top:1545.3px;width:227.8px;height:33.0px;background:linear-gradient(90deg,#7fb2e2 0.0px 2.4px,#4673c5 2.4px 9.7px,#9b752a 9.7px 18.7px,#fdbe12 18.7px 21.3px,#a52a31 21.3px 216.5px,#f2985b 216.5px 218.7px,#8bc268 218.7px 223.2px,#9dc4e8 223.2px 225.6px,#44713d 225.6px 227.8px)"></div>
<div class="pf" style="left:1119.1px;top:80.9px;width:231.8px;height:1493.3px"></div>
<div class="r" style="left:1121.1px;top:80.9px;width:228.8px;height:33.0px;background:linear-gradient(90deg,#f8ea42 0.0px 7.7px,#c36fb3 7.7px 12.2px,#8cc63f 12.2px 14.6px,#fcc79c 14.6px 20.3px,#c0c0c0 20.3px)"></div>
<div class="r" style="left:1121.1px;top:116.5px;width:228.8px;height:33.0px;background:linear-gradient(90deg,#c0c0c0 0.0px 1.0px,#a9decf 1.0px 2.4px,#dcd791 2.4px 5.7px,#c36fb3 5.7px 17.2px,#d22e27 17.2px 19.7px,#fcc79c 19.7px 22.3px,#8595cf 22.3px 26.8px,#fba464 26.8px 33.5px,#1c93b3 33.5px 35.9px,#a9decf 35.9px 40.6px,#c0c0c0 40.6px)"></div>
<div class="r" style="left:1121.1px;top:152.1px;width:228.8px;height:31.7px;background:linear-gradient(90deg,#f8ea42 0.0px 24.3px,#c36fb3 24.3px 25.4px,#fba464 25.4px 31.4px,#c0c0c0 31.4px)"></div>
<div class="r" style="left:1121.1px;top:189.1px;width:228.8px;height:30.4px;background:linear-gradient(90deg,#f8ea42 0.0px 3.0px,#1e5a3a 3.0px 5.7px,#c36fb3 5.7px 12.8px,#d22e27 12.8px 17.2px,#dcd791 17.2px 19.9px,#fba464 19.9px 26.8px,#c0c0c0 26.8px)"></div>
<div class="r" style="left:1121.1px;top:224.7px;width:228.8px;height:31.7px;background:linear-gradient(90deg,#f8ea42 0.0px 5.7px,#c36fb3 5.7px 7.7px,#d22e27 7.7px 12.8px,#dcd791 12.8px 17.2px,#fba464 17.2px 21.7px,#1c93b3 21.7px 23.9px,#a9decf 23.9px 26.0px,#c0c0c0 26.0px)"></div>
<div class="r" style="left:1121.1px;top:259.0px;width:228.8px;height:33.0px;background:linear-gradient(90deg,#f8ea42 0.0px 10.1px,#c36fb3 10.1px 17.2px,#d22e27 17.2px 19.7px,#fba464 19.7px 30.8px,#17a878 30.8px 33.5px,#c0c0c0 33.5px)"></div>
<div class="r" style="left:1121.1px;top:294.6px;width:228.8px;height:33.0px;background:linear-gradient(90deg,#f8ea42 0.0px 10.1px,#c36fb3 10.1px 14.8px,#d22e27 14.8px 17.2px,#a88f5a 17.2px 19.7px,#fba464 19.7px 22.3px,#c0c0c0 22.3px)"></div>
<div class="r" style="left:1121.1px;top:330.2px;width:228.8px;height:33.0px;background:linear-gradient(90deg,#f8ea42 0.0px 14.8px,#d22e27 14.8px 16.8px,#fba464 16.8px 21.7px,#c0c0c0 21.7px)"></div>
<div class="r" style="left:1121.1px;top:365.8px;width:228.8px;height:31.7px;background:linear-gradient(90deg,#f8ea42 0.0px 21.7px,#c36fb3 21.7px 28.4px,#8cc63f 28.4px 30.8px,#8595cf 30.8px 33.5px,#fba464 33.5px 46.7px,#fcc79c 46.7px 49.7px,#c0c0c0 49.7px)"></div>
<div class="r" style="left:1121.1px;top:402.7px;width:228.8px;height:30.4px;background:linear-gradient(90deg,#f8ea42 0.0px 19.7px,#a88f5a 19.7px 23.9px,#fba464 23.9px 30.4px,#c0c0c0 30.4px)"></div>
<div class="r" style="left:1121.1px;top:438.4px;width:228.8px;height:31.7px;background:linear-gradient(90deg,#f8ea42 0.0px 5.7px,#c36fb3 5.7px 10.1px,#d22e27 10.1px 17.2px,#fba464 17.2px 19.7px,#17a878 19.7px 21.7px,#c0c0c0 21.7px)"></div>
<div class="r" style="left:1121.1px;top:472.7px;width:228.8px;height:33.0px;background:linear-gradient(90deg,#f8ea42 0.0px 17.2px,#c36fb3 17.2px 21.7px,#dcd791 21.7px 24.3px,#fba464 24.3px 28.8px,#17a878 28.8px 30.8px,#c0c0c0 30.8px)"></div>
<div class="r" style="left:1121.1px;top:508.3px;width:228.8px;height:33.0px;background:linear-gradient(90deg,#f8ea42 0.0px 10.1px,#c36fb3 10.1px 17.2px,#d22e27 17.2px 21.7px,#8595cf 21.7px 24.3px,#fba464 24.3px 28.8px,#17a878 28.8px 30.8px,#a9decf 30.8px 33.9px,#c0c0c0 33.9px)"></div>
<div class="r" style="left:1121.1px;top:543.9px;width:228.8px;height:31.7px;background:linear-gradient(90deg,#f8ea42 0.0px 19.7px,#9c3a1f 19.7px 21.7px,#fba464 21.7px 28.8px,#c0c0c0 28.8px)"></div>
<div class="r" style="left:1121.1px;top:580.8px;width:228.8px;height:30.4px;background:linear-gradient(90deg,#c0c0c0 0.0px 1.0px,#f8ea42 1.0px 3.7px,#c36fb3 3.7px 14.8px,#d22e27 14.8px 19.7px,#dcd791 19.7px 21.7px,#fba464 21.7px 35.5px,#dcd791 35.5px 37.9px,#c0c0c0 37.9px)"></div>
<div class="r" style="left:1121.1px;top:616.4px;width:228.8px;height:31.1px;background:linear-gradient(90deg,#f8ea42 0.0px 8.1px,#c36fb3 8.1px 16.6px,#a88f5a 16.6px 19.7px,#9c3a1f 19.7px 21.7px,#dcd791 21.7px 26.4px,#fba464 26.4px 30.8px,#1c93b3 30.8px 33.5px,#c0c0c0 33.5px)"></div>
<div class="r" style="left:1121.1px;top:651.4px;width:228.8px;height:32.4px;background:linear-gradient(90deg,#f8ea42 0.0px 5.7px,#c36fb3 5.7px 7.7px,#fba464 7.7px 14.8px,#c0c0c0 14.8px)"></div>
<div class="r" style="left:1121.1px;top:686.4px;width:228.8px;height:33.0px;background:linear-gradient(90deg,#f8ea42 0.0px 10.1px,#a88f5a 10.1px 12.2px,#8cc63f 12.2px 14.8px,#dcd791 14.8px 17.2px,#fba464 17.2px 19.7px,#17a878 19.7px 21.7px,#a9decf 21.7px 23.7px,#c0c0c0 23.7px)"></div>
<div class="r" style="left:1121.1px;top:722.0px;width:228.8px;height:33.0px;background:linear-gradient(90deg,#f8ea42 0.0px 17.2px,#8595cf 17.2px 21.7px,#dcd791 21.7px 24.3px,#fcc79c 24.3px 26.0px,#c0c0c0 26.0px)"></div>
<div class="r" style="left:1121.1px;top:757.6px;width:228.8px;height:31.7px;background:linear-gradient(90deg,#c0c0c0 0.0px 1.0px,#f8ea42 1.0px 3.7px,#c36fb3 3.7px 10.1px,#d22e27 10.1px 17.2px,#dcd791 17.2px 19.7px,#fba464 19.7px 28.8px,#c0c0c0 28.8px)"></div>
<div class="r" style="left:1121.1px;top:794.5px;width:228.8px;height:30.4px;background:linear-gradient(90deg,#f8ea42 0.0px 12.8px,#c36fb3 12.8px 14.8px,#d22e27 14.8px 16.8px,#fba464 16.8px 23.9px,#1c93b3 23.9px 26.4px,#c0c0c0 26.4px)"></div>
<div class="r" style="left:1121.1px;top:830.1px;width:228.8px;height:31.7px;background:linear-gradient(90deg,#f8ea42 0.0px 25.4px,#faf29a 25.4px 26.8px,#fba464 26.8px 35.9px,#fcc79c 35.9px 37.5px,#c0c0c0 37.5px)"></div>
<div class="r" style="left:1121.1px;top:864.5px;width:228.8px;height:33.0px;background:linear-gradient(90deg,#c0c0c0 0.0px 1.0px,#f8ea42 1.0px 3.7px,#c36fb3 3.7px 12.8px,#d22e27 12.8px 17.2px,#dcd791 17.2px 21.7px,#fba464 21.7px 26.4px,#17a878 26.4px 30.8px,#cfe6a6 30.8px 33.9px,#c0c0c0 33.9px)"></div>
<div class="r" style="left:1121.1px;top:900.1px;width:228.8px;height:33.0px;background:linear-gradient(90deg,#f8ea42 0.0px 8.1px,#c36fb3 8.1px 12.8px,#d22e27 12.8px 14.8px,#dcd791 14.8px 17.2px,#fba464 17.2px 21.7px,#c0c0c0 21.7px)"></div>
<div class="r" style="left:1121.1px;top:935.7px;width:228.8px;height:33.0px;background:linear-gradient(90deg,#f8ea42 0.0px 19.7px,#9c3a1f 19.7px 21.7px,#8595cf 21.7px 24.3px,#fba464 24.3px 28.8px,#27397f 28.8px 30.8px,#cfe6a6 30.8px 37.9px,#c0c0c0 37.9px)"></div>
<div class="r" style="left:1121.1px;top:971.3px;width:228.8px;height:31.7px;background:linear-gradient(90deg,#c0c0c0 0.0px 1.0px,#f8ea42 1.0px 3.7px,#c36fb3 3.7px 12.8px,#d22e27 12.8px 14.8px,#fba464 14.8px 26.8px,#fcc79c 26.8px 28.4px,#c0c0c0 28.4px)"></div>
<div class="r" style="left:1121.1px;top:1008.2px;width:228.8px;height:30.4px;background:linear-gradient(90deg,#f8ea42 0.0px 8.1px,#9c3a1f 8.1px 12.8px,#dcd791 12.8px 17.2px,#5d4b9c 17.2px 19.7px,#a9decf 19.7px 21.7px,#c0c0c0 21.7px)"></div>
<div class="r" style="left:1121.1px;top:1043.8px;width:228.8px;height:31.7px;background:linear-gradient(90deg,#c0c0c0 0.0px 1.0px,#fba464 1.0px 2.4px,#f8ea42 2.4px 8.1px,#c36fb3 8.1px 12.8px,#8cc63f 12.8px 14.8px,#d22e27 14.8px 17.2px,#dcd791 17.2px 19.7px,#8595cf 19.7px 22.3px,#fba464 22.3px 28.8px,#1c93b3 28.8px 30.8px,#a9decf 30.8px 33.9px,#c0c0c0 33.9px)"></div>
<div class="r" style="left:1121.1px;top:1078.2px;width:228.8px;height:33.0px;background:linear-gradient(90deg,#c0c0c0 0.0px 1.0px,#a9decf 1.0px 2.4px,#dcd791 2.4px 4.5px,#f8ea42 4.5px 8.1px,#c36fb3 8.1px 14.8px,#d22e27 14.8px 17.2px,#dcd791 17.2px 21.7px,#8595cf 21.7px 26.4px,#fba464 26.4px 33.5px,#27397f 33.5px 35.9px,#a9decf 35.9px 39.0px,#cfe6a6 39.0px 45.0px,#c0c0c0 45.0px)"></div>
<div class="r" style="left:1121.1px;top:1113.8px;width:228.8px;height:33.0px;background:linear-gradient(90deg,#f8ea42 0.0px 10.1px,#c36fb3 10.1px 14.8px,#d22e27 14.8px 17.2px,#fba464 17.2px 19.7px,#c0c0c0 19.7px)"></div>
<div class="r" style="left:1121.1px;top:1149.4px;width:228.8px;height:31.7px;background:linear-gradient(90deg,#c0c0c0 0.0px 1.0px,#c36fb3 1.0px 14.8px,#d22e27 14.8px 21.7px,#dcd791 21.7px 24.3px,#8595cf 24.3px 26.4px,#fba464 26.4px 35.5px,#fcc79c 35.5px 37.9px,#c0c0c0 37.9px)"></div>
<div class="r" style="left:1121.1px;top:1186.3px;width:228.8px;height:30.4px;background:linear-gradient(90deg,#f8ea42 0.0px 8.1px,#c36fb3 8.1px 14.8px,#8cc63f 14.8px 17.2px,#d22e27 17.2px 21.7px,#dcd791 21.7px 24.3px,#fba464 24.3px 35.5px,#5d4b9c 35.5px 37.9px,#fcc79c 37.9px 40.6px,#c0c0c0 40.6px)"></div>
<div class="r" style="left:1121.1px;top:1221.9px;width:228.8px;height:31.7px;background:linear-gradient(90deg,#f8ea42 0.0px 12.8px,#c36fb3 12.8px 16.8px,#dcd791 16.8px 21.7px,#1c93b3 21.7px 23.9px,#a9decf 23.9px 26.0px,#c0c0c0 26.0px)"></div>
<div class="r" style="left:1121.1px;top:1256.2px;width:228.8px;height:33.0px;background:linear-gradient(90deg,#f8ea42 0.0px 8.1px,#c36fb3 8.1px 21.7px,#d22e27 21.7px 23.9px,#fcc79c 23.9px 26.4px,#8595cf 26.4px 28.8px,#fba464 28.8px 35.5px,#1c93b3 35.5px 37.9px,#a9decf 37.9px 40.6px,#c0c0c0 40.6px)"></div>
<div class="r" style="left:1121.1px;top:1291.9px;width:228.8px;height:33.0px;background:linear-gradient(90deg,#f8ea42 0.0px 8.1px,#c36fb3 8.1px 17.2px,#a88f5a 17.2px 19.7px,#d22e27 19.7px 23.9px,#dcd791 23.9px 28.8px,#fba464 28.8px 35.5px,#17a878 35.5px 37.9px,#c0c0c0 37.9px)"></div>
<div class="r" style="left:1121.1px;top:1327.5px;width:228.8px;height:33.0px;background:linear-gradient(90deg,#f8ea42 0.0px 5.7px,#c36fb3 5.7px 10.1px,#a88f5a 10.1px 12.8px,#d22e27 12.8px 14.8px,#cfe6a6 14.8px 23.9px,#17a878 23.9px 30.8px,#a9decf 30.8px 33.9px,#c0c0c0 33.9px)"></div>
<div class="r" style="left:1121.1px;top:1363.1px;width:228.8px;height:31.7px;background:linear-gradient(90deg,#c0c0c0 0.0px 1.0px,#f8ea42 1.0px 3.0px,#1e5a3a 3.0px 5.7px,#c36fb3 5.7px 10.1px,#a88f5a 10.1px 12.8px,#d22e27 12.8px 17.2px,#a88f5a 17.2px 19.7px,#dcd791 19.7px 22.3px,#fba464 22.3px 30.8px,#17a878 30.8px 33.1px,#a9decf 33.1px 37.5px,#c0c0c0 37.5px)"></div>
<div class="r" style="left:1121.1px;top:1400.0px;width:228.8px;height:30.4px;background:linear-gradient(90deg,#f8ea42 0.0px 5.7px,#c36fb3 5.7px 12.8px,#a88f5a 12.8px 14.8px,#d22e27 14.8px 19.3px,#d59ac8 19.3px 22.3px,#fba464 22.3px 28.8px,#c0c0c0 28.8px)"></div>
<div class="r" style="left:1121.1px;top:1435.6px;width:228.8px;height:31.7px;background:linear-gradient(90deg,#f8ea42 0.0px 8.1px,#c36fb3 8.1px 14.8px,#d22e27 14.8px 19.7px,#9c3a1f 19.7px 21.7px,#8595cf 21.7px 26.4px,#fba464 26.4px 33.5px,#1c93b3 33.5px 35.9px,#a9decf 35.9px 37.9px,#c0c0c0 37.9px)"></div>
<div class="r" style="left:1121.1px;top:1469.9px;width:228.8px;height:33.0px;background:linear-gradient(90deg,#f8ea42 0.0px 17.2px,#c36fb3 17.2px 21.7px,#d22e27 21.7px 23.9px,#fba464 23.9px 26.8px,#c0c0c0 26.8px)"></div>
<div class="r" style="left:1121.1px;top:1505.6px;width:228.8px;height:33.0px;background:linear-gradient(90deg,#f8ea42 0.0px 26.8px,#c36fb3 26.8px 28.8px,#fba464 28.8px 33.9px,#c0c0c0 33.9px)"></div>
<div class="r" style="left:1121.1px;top:1541.2px;width:228.8px;height:33.0px;background:linear-gradient(90deg,#f8ea42 0.0px 5.7px,#1e5a3a 5.7px 7.7px,#a88f5a 7.7px 12.8px,#d22e27 12.8px 17.2px,#fcc79c 17.2px 19.7px,#fba464 19.7px 26.4px,#18a6dd 26.4px 33.5px,#a9decf 33.5px 37.5px,#c0c0c0 37.5px)"></div>
<div class="pf" style="left:1365.5px;top:82.5px;width:230.0px;height:1493.1px"></div>
<div class="r" style="left:1367.5px;top:82.5px;width:227.0px;height:33.0px;background:linear-gradient(90deg,#5cc8e8 0.0px 33.1px,#6cc5b1 33.1px 39.6px,#e9213f 39.6px 46.3px,#2a8d6f 46.3px 54.4px,#74807f 54.4px 57.4px,#84cfee 57.4px 61.5px,#f7ec3d 61.5px 67.6px,#8dc63f 67.6px 74.7px,#e5692a 74.7px 116.3px,#d22f27 116.3px 164.3px,#98a6d4 164.3px 171.6px,#a6dbd2 171.6px 176.5px,#1878a2 176.5px 185.2px,#9bd5c6 185.2px 190.3px,#fba464 190.3px 197.4px,#7ac143 197.4px 202.5px,#12b37a 202.5px 216.3px,#d5622c 216.3px 225.4px,#98a6d4 225.4px 227.0px)"></div>
<div class="r" style="left:1367.5px;top:118.1px;width:227.0px;height:33.0px;background:linear-gradient(90deg,#5cc8e8 0.0px 33.1px,#6cc5b1 33.1px 41.8px,#e9213f 41.8px 48.9px,#2a8d6f 48.9px 57.4px,#74807f 57.4px 60.5px,#84cfee 60.5px 64.5px,#f7ec3d 64.5px 69.6px,#8dc63f 69.6px 76.7px,#e5692a 76.7px 116.3px,#d22f27 116.3px 167.0px,#98a6d4 167.0px 173.5px,#a6dbd2 173.5px 176.5px,#163f72 176.5px 178.1px,#1878a2 178.1px 187.9px,#9bd5c6 187.9px 191.3px,#fba464 191.3px 199.8px,#7ac143 199.8px 202.5px,#12b37a 202.5px 216.3px,#d5622c 216.3px 225.4px,#98a6d4 225.4px 227.0px)"></div>
<div class="r" style="left:1367.5px;top:153.7px;width:227.0px;height:31.7px;background:linear-gradient(90deg,#5cc8e8 0.0px 30.0px,#a6cf4e 30.0px 33.1px,#6cc5b1 33.1px 39.6px,#e9213f 39.6px 46.3px,#2a8d6f 46.3px 52.3px,#74807f 52.3px 58.4px,#84cfee 58.4px 62.5px,#f7ec3d 62.5px 67.6px,#8dc63f 67.6px 74.7px,#e5692a 74.7px 116.3px,#d22f27 116.3px 162.5px,#98a6d4 162.5px 171.6px,#a6dbd2 171.6px 176.5px,#1878a2 176.5px 185.2px,#9bd5c6 185.2px 190.3px,#fba464 190.3px 197.4px,#7ac143 197.4px 202.5px,#12b37a 202.5px 216.3px,#d5622c 216.3px 225.4px,#98a6d4 225.4px 227.0px)"></div>
<div class="r" style="left:1367.5px;top:190.6px;width:227.0px;height:30.4px;background:linear-gradient(90deg,#5cc8e8 0.0px 34.7px,#a6cf4e 34.7px 37.1px,#6cc5b1 37.1px 43.8px,#e9213f 43.8px 48.9px,#2a8d6f 48.9px 58.4px,#74807f 58.4px 61.9px,#84cfee 61.9px 67.0px,#f7ec3d 67.0px 71.6px,#8dc63f 71.6px 76.7px,#e5692a 76.7px 130.5px,#d22f27 130.5px 167.0px,#98a6d4 167.0px 171.6px,#a6dbd2 171.6px 176.5px,#1878a2 176.5px 185.2px,#9bd5c6 185.2px 190.3px,#fba464 190.3px 197.4px,#7ac143 197.4px 202.5px,#12b37a 202.5px 214.0px,#d5622c 214.0px 225.4px,#98a6d4 225.4px 227.0px)"></div>
<div class="r" style="left:1367.5px;top:226.2px;width:227.0px;height:31.7px;background:linear-gradient(90deg,#5cc8e8 0.0px 32.7px,#a6cf4e 32.7px 35.1px,#6cc5b1 35.1px 43.8px,#e9213f 43.8px 48.9px,#2a8d6f 48.9px 57.4px,#74807f 57.4px 60.5px,#84cfee 60.5px 64.5px,#f7ec3d 64.5px 71.6px,#8dc63f 71.6px 79.1px,#e5692a 79.1px 116.3px,#d22f27 116.3px 160.3px,#98a6d4 160.3px 169.0px,#a6dbd2 169.0px 172.0px,#1878a2 172.0px 183.2px,#9bd5c6 183.2px 188.3px,#fba464 188.3px 195.0px,#7ac143 195.0px 199.8px,#12b37a 199.8px 214.0px,#d5622c 214.0px 225.4px,#98a6d4 225.4px 227.0px)"></div>
<div class="r" style="left:1367.5px;top:260.6px;width:227.0px;height:33.0px;background:linear-gradient(90deg,#5cc8e8 0.0px 30.0px,#a6cf4e 30.0px 34.7px,#6cc5b1 34.7px 43.8px,#e9213f 43.8px 48.9px,#2a8d6f 48.9px 55.4px,#74807f 55.4px 60.5px,#84cfee 60.5px 62.9px,#f7ec3d 62.9px 69.6px,#8dc63f 69.6px 76.7px,#e5692a 76.7px 118.3px,#d22f27 118.3px 160.3px,#98a6d4 160.3px 167.0px,#a6dbd2 167.0px 169.6px,#163f72 169.6px 172.0px,#1878a2 172.0px 183.2px,#9bd5c6 183.2px 187.9px,#fba464 187.9px 195.0px,#7ac143 195.0px 197.4px,#12b37a 197.4px 211.6px,#d5622c 211.6px 225.4px,#98a6d4 225.4px 227.0px)"></div>
<div class="r" style="left:1367.5px;top:296.2px;width:227.0px;height:33.0px;background:linear-gradient(90deg,#5cc8e8 0.0px 32.7px,#a6cf4e 32.7px 37.1px,#6cc5b1 37.1px 46.3px,#e9213f 46.3px 50.9px,#2a8d6f 50.9px 57.4px,#74807f 57.4px 61.9px,#84cfee 61.9px 67.0px,#f7ec3d 67.0px 71.6px,#8dc63f 71.6px 79.1px,#e5692a 79.1px 120.7px,#d22f27 120.7px 162.5px,#98a6d4 162.5px 167.0px,#a6dbd2 167.0px 171.6px,#163f72 171.6px 174.1px,#1878a2 174.1px 183.2px,#9bd5c6 183.2px 188.3px,#fba464 188.3px 195.0px,#7ac143 195.0px 199.8px,#12b37a 199.8px 211.6px,#d5622c 211.6px 225.4px,#98a6d4 225.4px 227.0px)"></div>
<div class="r" style="left:1367.5px;top:331.8px;width:227.0px;height:33.0px;background:linear-gradient(90deg,#5cc8e8 0.0px 32.7px,#6cc5b1 32.7px 41.8px,#e9213f 41.8px 48.9px,#2a8d6f 48.9px 57.4px,#74807f 57.4px 60.5px,#84cfee 60.5px 64.5px,#f7ec3d 64.5px 69.6px,#8dc63f 69.6px 74.7px,#e5692a 74.7px 118.3px,#d22f27 118.3px 167.0px,#98a6d4 167.0px 174.1px,#a6dbd2 174.1px 176.5px,#163f72 176.5px 178.5px,#1878a2 178.5px 187.9px,#9bd5c6 187.9px 191.3px,#fba464 191.3px 197.4px,#7ac143 197.4px 202.5px,#12b37a 202.5px 216.3px,#d5622c 216.3px 225.4px,#98a6d4 225.4px 227.0px)"></div>
<div class="r" style="left:1367.5px;top:367.4px;width:227.0px;height:31.7px;background:linear-gradient(90deg,#5cc8e8 0.0px 30.0px,#a6cf4e 30.0px 32.7px,#6cc5b1 32.7px 39.6px,#e9213f 39.6px 48.9px,#2a8d6f 48.9px 55.4px,#74807f 55.4px 58.4px,#84cfee 58.4px 62.5px,#f7ec3d 62.5px 67.6px,#8dc63f 67.6px 74.7px,#e5692a 74.7px 116.3px,#d22f27 116.3px 164.9px,#98a6d4 164.9px 171.6px,#a6dbd2 171.6px 176.5px,#1878a2 176.5px 185.2px,#9bd5c6 185.2px 190.3px,#fba464 190.3px 197.4px,#7ac143 197.4px 202.5px,#12b37a 202.5px 216.3px,#d5622c 216.3px 225.4px,#98a6d4 225.4px 227.0px)"></div>
<div class="r" style="left:1367.5px;top:404.3px;width:227.0px;height:30.4px;background:linear-gradient(90deg,#5cc8e8 0.0px 28.0px,#6cc5b1 28.0px 37.1px,#e9213f 37.1px 43.8px,#58a845 43.8px 46.3px,#2a8d6f 46.3px 51.3px,#74807f 51.3px 54.0px,#84cfee 54.0px 58.0px,#f7ec3d 58.0px 62.9px,#8dc63f 62.9px 69.6px,#e5692a 69.6px 113.8px,#d22f27 113.8px 164.3px,#98a6d4 164.3px 171.6px,#a6dbd2 171.6px 176.5px,#1878a2 176.5px 187.9px,#9bd5c6 187.9px 191.3px,#fba464 191.3px 197.4px,#7ac143 197.4px 202.5px,#12b37a 202.5px 216.3px,#d5622c 216.3px 225.4px,#98a6d4 225.4px 227.0px)"></div>
<div class="r" style="left:1367.5px;top:439.9px;width:227.0px;height:31.7px;background:linear-gradient(90deg,#5cc8e8 0.0px 28.0px,#6cc5b1 28.0px 34.7px,#e9213f 34.7px 43.8px,#2a8d6f 43.8px 50.3px,#74807f 50.3px 53.4px,#84cfee 53.4px 58.0px,#f7ec3d 58.0px 62.9px,#8dc63f 62.9px 69.6px,#e5692a 69.6px 113.8px,#d22f27 113.8px 167.0px,#98a6d4 167.0px 172.0px,#a6dbd2 172.0px 178.5px,#1878a2 178.5px 187.9px,#9bd5c6 187.9px 192.3px,#fba464 192.3px 197.4px,#7ac143 197.4px 202.5px,#12b37a 202.5px 216.3px,#d5622c 216.3px 225.4px,#98a6d4 225.4px 227.0px)"></div>
<div class="r" style="left:1367.5px;top:474.2px;width:227.0px;height:33.0px;background:linear-gradient(90deg,#5cc8e8 0.0px 21.9px,#a6cf4e 21.9px 25.0px,#6cc5b1 25.0px 30.0px,#e9213f 30.0px 36.5px,#58a845 36.5px 39.2px,#2a8d6f 39.2px 44.2px,#74807f 44.2px 46.3px,#84cfee 46.3px 48.9px,#f7ec3d 48.9px 53.4px,#8dc63f 53.4px 60.5px,#e5692a 60.5px 111.6px,#d22f27 111.6px 174.1px,#98a6d4 174.1px 181.2px,#a6dbd2 181.2px 183.8px,#1878a2 183.8px 192.3px,#9bd5c6 192.3px 195.0px,#fba464 195.0px 199.8px,#7ac143 199.8px 204.5px,#12b37a 204.5px 216.3px,#d5622c 216.3px 225.4px,#98a6d4 225.4px 227.0px)"></div>
<div class="r" style="left:1367.5px;top:509.8px;width:227.0px;height:33.0px;background:linear-gradient(90deg,#5cc8e8 0.0px 26.0px,#6cc5b1 26.0px 37.1px,#e9213f 37.1px 41.8px,#58a845 41.8px 43.8px,#2a8d6f 43.8px 48.3px,#74807f 48.3px 50.9px,#84cfee 50.9px 55.4px,#f7ec3d 55.4px 60.5px,#8dc63f 60.5px 64.9px,#e5692a 64.9px 109.1px,#d22f27 109.1px 171.6px,#98a6d4 171.6px 178.1px,#a6dbd2 178.1px 181.2px,#1878a2 181.2px 190.3px,#9bd5c6 190.3px 195.0px,#fba464 195.0px 199.8px,#7ac143 199.8px 204.5px,#12b37a 204.5px 216.3px,#d5622c 216.3px 225.4px,#98a6d4 225.4px 227.0px)"></div>
<div class="r" style="left:1367.5px;top:545.5px;width:227.0px;height:31.7px;background:linear-gradient(90deg,#5cc8e8 0.0px 27.6px,#a6cf4e 27.6px 30.0px,#6cc5b1 30.0px 37.1px,#e9213f 37.1px 43.8px,#2a8d6f 43.8px 49.3px,#74807f 49.3px 52.3px,#84cfee 52.3px 56.4px,#f7ec3d 56.4px 62.9px,#8dc63f 62.9px 67.6px,#e5692a 67.6px 109.1px,#d22f27 109.1px 167.0px,#98a6d4 167.0px 173.5px,#a6dbd2 173.5px 176.5px,#163f72 176.5px 178.1px,#1878a2 178.1px 187.9px,#9bd5c6 187.9px 191.3px,#fba464 191.3px 197.4px,#7ac143 197.4px 202.5px,#12b37a 202.5px 214.0px,#d5622c 214.0px 225.4px,#98a6d4 225.4px 227.0px)"></div>
<div class="r" style="left:1367.5px;top:582.4px;width:227.0px;height:30.4px;background:linear-gradient(90deg,#5cc8e8 0.0px 26.0px,#6cc5b1 26.0px 34.7px,#e9213f 34.7px 39.2px,#58a845 39.2px 41.2px,#2a8d6f 41.2px 48.3px,#74807f 48.3px 50.9px,#84cfee 50.9px 53.4px,#f7ec3d 53.4px 58.0px,#8dc63f 58.0px 62.5px,#e5692a 62.5px 109.1px,#d22f27 109.1px 171.6px,#98a6d4 171.6px 176.5px,#a6dbd2 176.5px 179.1px,#163f72 179.1px 181.2px,#1878a2 181.2px 190.3px,#9bd5c6 190.3px 195.0px,#fba464 195.0px 199.8px,#7ac143 199.8px 204.5px,#12b37a 204.5px 216.3px,#d5622c 216.3px 225.4px,#98a6d4 225.4px 227.0px)"></div>
<div class="r" style="left:1367.5px;top:618.0px;width:227.0px;height:31.1px;background:linear-gradient(90deg,#5cc8e8 0.0px 27.6px,#a6cf4e 27.6px 30.0px,#6cc5b1 30.0px 37.1px,#e9213f 37.1px 41.8px,#2a8d6f 41.8px 48.9px,#74807f 48.9px 50.9px,#84cfee 50.9px 56.0px,#f7ec3d 56.0px 60.5px,#8dc63f 60.5px 64.9px,#e5692a 64.9px 109.1px,#d22f27 109.1px 171.6px,#98a6d4 171.6px 176.5px,#a6dbd2 176.5px 181.2px,#1878a2 181.2px 190.3px,#9bd5c6 190.3px 195.0px,#fba464 195.0px 199.8px,#7ac143 199.8px 204.5px,#12b37a 204.5px 216.3px,#d5622c 216.3px 225.4px,#98a6d4 225.4px 227.0px)"></div>
<div class="r" style="left:1367.5px;top:652.9px;width:227.0px;height:32.4px;background:linear-gradient(90deg,#5cc8e8 0.0px 30.0px,#a6cf4e 30.0px 32.7px,#6cc5b1 32.7px 39.6px,#e9213f 39.6px 46.3px,#2a8d6f 46.3px 52.3px,#74807f 52.3px 55.4px,#84cfee 55.4px 60.5px,#f7ec3d 60.5px 64.9px,#8dc63f 64.9px 71.6px,#e5692a 71.6px 113.8px,#d22f27 113.8px 167.0px,#98a6d4 167.0px 172.0px,#a6dbd2 172.0px 174.1px,#163f72 174.1px 176.5px,#1878a2 176.5px 185.2px,#9bd5c6 185.2px 190.3px,#fba464 190.3px 197.4px,#7ac143 197.4px 202.5px,#12b37a 202.5px 214.0px,#d5622c 214.0px 225.4px,#98a6d4 225.4px 227.0px)"></div>
<div class="r" style="left:1367.5px;top:687.9px;width:227.0px;height:33.0px;background:linear-gradient(90deg,#5cc8e8 0.0px 32.7px,#6cc5b1 32.7px 41.8px,#e9213f 41.8px 46.3px,#2a8d6f 46.3px 53.4px,#74807f 53.4px 57.4px,#84cfee 57.4px 60.5px,#f7ec3d 60.5px 67.6px,#8dc63f 67.6px 71.6px,#e5692a 71.6px 118.3px,#d22f27 118.3px 162.5px,#98a6d4 162.5px 169.6px,#a6dbd2 169.6px 172.0px,#163f72 172.0px 174.1px,#1878a2 174.1px 183.2px,#9bd5c6 183.2px 188.3px,#fba464 188.3px 197.4px,#7ac143 197.4px 199.8px,#12b37a 199.8px 214.0px,#d5622c 214.0px 225.4px,#98a6d4 225.4px 227.0px)"></div>
<div class="r" style="left:1367.5px;top:723.5px;width:227.0px;height:33.0px;background:linear-gradient(90deg,#5cc8e8 0.0px 34.7px,#a6cf4e 34.7px 37.1px,#6cc5b1 37.1px 44.2px,#e9213f 44.2px 50.9px,#2a8d6f 50.9px 58.0px,#84cfee 58.0px 64.9px,#f7ec3d 64.9px 71.6px,#8dc63f 71.6px 79.1px,#e5692a 79.1px 120.7px,#d22f27 120.7px 160.3px,#98a6d4 160.3px 167.0px,#a6dbd2 167.0px 169.6px,#163f72 169.6px 172.0px,#1878a2 172.0px 180.2px,#9bd5c6 180.2px 185.8px,#fba464 185.8px 192.3px,#7ac143 192.3px 197.4px,#12b37a 197.4px 211.6px,#d5622c 211.6px 225.4px,#98a6d4 225.4px 227.0px)"></div>
<div class="r" style="left:1367.5px;top:759.1px;width:227.0px;height:31.7px;background:linear-gradient(90deg,#5cc8e8 0.0px 30.0px,#a6cf4e 30.0px 32.7px,#6cc5b1 32.7px 41.8px,#e9213f 41.8px 46.3px,#2a8d6f 46.3px 53.4px,#74807f 53.4px 57.4px,#84cfee 57.4px 62.5px,#f7ec3d 62.5px 67.6px,#8dc63f 67.6px 71.6px,#e5692a 71.6px 116.3px,#d22f27 116.3px 162.5px,#98a6d4 162.5px 169.6px,#a6dbd2 169.6px 171.6px,#163f72 171.6px 174.1px,#1878a2 174.1px 183.2px,#9bd5c6 183.2px 187.9px,#fba464 187.9px 195.0px,#7ac143 195.0px 199.8px,#12b37a 199.8px 214.0px,#d5622c 214.0px 225.4px,#98a6d4 225.4px 227.0px)"></div>
<div class="r" style="left:1367.5px;top:796.0px;width:227.0px;height:30.4px;background:linear-gradient(90deg,#5cc8e8 0.0px 25.0px,#a6cf4e 25.0px 28.0px,#6cc5b1 28.0px 34.7px,#e9213f 34.7px 41.2px,#58a845 41.2px 43.8px,#2a8d6f 43.8px 49.3px,#74807f 49.3px 53.4px,#f7ec3d 53.4px 60.5px,#8dc63f 60.5px 67.6px,#e5692a 67.6px 111.6px,#d22f27 111.6px 164.3px,#98a6d4 164.3px 171.6px,#a6dbd2 171.6px 176.5px,#1878a2 176.5px 187.9px,#9bd5c6 187.9px 192.3px,#fba464 192.3px 197.4px,#7ac143 197.4px 202.5px,#12b37a 202.5px 216.3px,#d5622c 216.3px 225.4px,#98a6d4 225.4px 227.0px)"></div>
<div class="r" style="left:1367.5px;top:831.6px;width:227.0px;height:31.7px;background:linear-gradient(90deg,#5cc8e8 0.0px 28.0px,#6cc5b1 28.0px 37.1px,#e9213f 37.1px 43.8px,#2a8d6f 43.8px 50.3px,#74807f 50.3px 55.4px,#84cfee 55.4px 58.4px,#f7ec3d 58.4px 62.5px,#8dc63f 62.5px 69.6px,#e5692a 69.6px 113.8px,#d22f27 113.8px 162.5px,#98a6d4 162.5px 169.6px,#a6dbd2 169.6px 174.1px,#1878a2 174.1px 185.8px,#9bd5c6 185.8px 190.3px,#fba464 190.3px 195.0px,#7ac143 195.0px 199.8px,#12b37a 199.8px 216.3px,#d5622c 216.3px 225.4px,#98a6d4 225.4px 227.0px)"></div>
<div class="r" style="left:1367.5px;top:866.0px;width:227.0px;height:33.0px;background:linear-gradient(90deg,#5cc8e8 0.0px 28.0px,#6cc5b1 28.0px 37.1px,#e9213f 37.1px 43.8px,#58a845 43.8px 46.3px,#2a8d6f 46.3px 51.3px,#74807f 51.3px 55.4px,#84cfee 55.4px 58.0px,#f7ec3d 58.0px 62.5px,#8dc63f 62.5px 69.6px,#e5692a 69.6px 113.8px,#d22f27 113.8px 164.3px,#98a6d4 164.3px 171.6px,#a6dbd2 171.6px 176.5px,#1878a2 176.5px 187.9px,#9bd5c6 187.9px 191.3px,#fba464 191.3px 197.4px,#7ac143 197.4px 202.5px,#12b37a 202.5px 216.3px,#d5622c 216.3px 225.4px,#98a6d4 225.4px 227.0px)"></div>
<div class="r" style="left:1367.5px;top:901.6px;width:227.0px;height:33.0px;background:linear-gradient(90deg,#5cc8e8 0.0px 28.0px,#6cc5b1 28.0px 34.7px,#e9213f 34.7px 43.8px,#2a8d6f 43.8px 51.3px,#7087c8 51.3px 53.4px,#84cfee 53.4px 58.0px,#f7ec3d 58.0px 62.5px,#8dc63f 62.5px 69.6px,#e5692a 69.6px 113.8px,#d22f27 113.8px 164.3px,#98a6d4 164.3px 171.6px,#a6dbd2 171.6px 176.5px,#1878a2 176.5px 187.9px,#9bd5c6 187.9px 191.3px,#fba464 191.3px 197.4px,#7ac143 197.4px 202.5px,#12b37a 202.5px 216.3px,#d5622c 216.3px 225.4px,#98a6d4 225.4px 227.0px)"></div>
<div class="r" style="left:1367.5px;top:937.2px;width:227.0px;height:33.0px;background:linear-gradient(90deg,#5cc8e8 0.0px 27.6px,#a6cf4e 27.6px 30.0px,#6cc5b1 30.0px 37.1px,#e9213f 37.1px 41.8px,#2a8d6f 41.8px 48.9px,#84cfee 48.9px 55.4px,#f7ec3d 55.4px 60.5px,#8dc63f 60.5px 64.9px,#e5692a 64.9px 107.1px,#d22f27 107.1px 171.6px,#98a6d4 171.6px 176.5px,#a6dbd2 176.5px 178.5px,#163f72 178.5px 180.6px,#1878a2 180.6px 190.3px,#9bd5c6 190.3px 193.3px,#fba464 193.3px 199.8px,#7ac143 199.8px 204.5px,#12b37a 204.5px 216.3px,#d5622c 216.3px 225.4px,#98a6d4 225.4px 227.0px)"></div>
<div class="r" style="left:1367.5px;top:972.8px;width:227.0px;height:31.7px;background:linear-gradient(90deg,#5cc8e8 0.0px 30.0px,#6cc5b1 30.0px 37.1px,#e9213f 37.1px 43.8px,#2a8d6f 43.8px 50.3px,#74807f 50.3px 52.3px,#84cfee 52.3px 58.0px,#f7ec3d 58.0px 62.5px,#8dc63f 62.5px 67.6px,#e5692a 67.6px 107.1px,#d22f27 107.1px 169.6px,#98a6d4 169.6px 174.1px,#a6dbd2 174.1px 179.1px,#1878a2 179.1px 187.9px,#9bd5c6 187.9px 192.3px,#fba464 192.3px 197.4px,#7ac143 197.4px 202.5px,#12b37a 202.5px 216.3px,#d5622c 216.3px 225.4px,#98a6d4 225.4px 227.0px)"></div>
<div class="r" style="left:1367.5px;top:1009.7px;width:227.0px;height:30.4px;background:linear-gradient(90deg,#5cc8e8 0.0px 32.7px,#6cc5b1 32.7px 41.8px,#e9213f 41.8px 46.3px,#2a8d6f 46.3px 53.4px,#74807f 53.4px 56.4px,#84cfee 56.4px 62.5px,#f7ec3d 62.5px 67.6px,#8dc63f 67.6px 71.6px,#e5692a 71.6px 111.6px,#d22f27 111.6px 164.3px,#98a6d4 164.3px 171.6px,#a6dbd2 171.6px 174.1px,#163f72 174.1px 176.5px,#1878a2 176.5px 187.9px,#9bd5c6 187.9px 191.3px,#fba464 191.3px 197.4px,#7ac143 197.4px 202.5px,#12b37a 202.5px 214.0px,#d5622c 214.0px 225.4px,#98a6d4 225.4px 227.0px)"></div>
<div class="r" style="left:1367.5px;top:1045.3px;width:227.0px;height:31.7px;background:linear-gradient(90deg,#5cc8e8 0.0px 30.0px,#a6cf4e 30.0px 32.7px,#6cc5b1 32.7px 39.6px,#e9213f 39.6px 46.3px,#2a8d6f 46.3px 52.3px,#7087c8 52.3px 58.0px,#84cfee 58.0px 62.5px,#f7ec3d 62.5px 67.6px,#8dc63f 67.6px 71.6px,#e5692a 71.6px 113.8px,#d22f27 113.8px 164.3px,#98a6d4 164.3px 169.6px,#a6dbd2 169.6px 174.1px,#163f72 174.1px 176.1px,#1878a2 176.1px 185.8px,#9bd5c6 185.8px 189.3px,#fba464 189.3px 197.4px,#7ac143 197.4px 199.8px,#12b37a 199.8px 214.0px,#d5622c 214.0px 225.4px,#98a6d4 225.4px 227.0px)"></div>
<div class="r" style="left:1367.5px;top:1079.6px;width:227.0px;height:33.0px;background:linear-gradient(90deg,#5cc8e8 0.0px 32.7px,#6cc5b1 32.7px 41.8px,#e9213f 41.8px 46.3px,#2a8d6f 46.3px 53.4px,#74807f 53.4px 57.4px,#84cfee 57.4px 62.5px,#f7ec3d 62.5px 67.6px,#8dc63f 67.6px 74.7px,#e5692a 74.7px 113.8px,#d22f27 113.8px 164.3px,#98a6d4 164.3px 171.6px,#a6dbd2 171.6px 174.1px,#163f72 174.1px 176.5px,#1878a2 176.5px 187.9px,#9bd5c6 187.9px 191.3px,#fba464 191.3px 197.4px,#7ac143 197.4px 202.5px,#12b37a 202.5px 214.0px,#d5622c 214.0px 225.4px,#98a6d4 225.4px 227.0px)"></div>
<div class="r" style="left:1367.5px;top:1115.2px;width:227.0px;height:33.0px;background:linear-gradient(90deg,#5cc8e8 0.0px 28.0px,#6cc5b1 28.0px 32.7px,#e9213f 32.7px 41.2px,#58a845 41.2px 43.8px,#2a8d6f 43.8px 51.3px,#74807f 51.3px 53.4px,#f7ec3d 53.4px 60.5px,#8dc63f 60.5px 67.6px,#e5692a 67.6px 113.8px,#d22f27 113.8px 164.3px,#98a6d4 164.3px 171.6px,#a6dbd2 171.6px 176.5px,#1878a2 176.5px 187.9px,#9bd5c6 187.9px 192.3px,#fba464 192.3px 197.4px,#7ac143 197.4px 202.5px,#12b37a 202.5px 216.3px,#d5622c 216.3px 225.4px,#98a6d4 225.4px 227.0px)"></div>
<div class="r" style="left:1367.5px;top:1150.9px;width:227.0px;height:31.7px;background:linear-gradient(90deg,#5cc8e8 0.0px 28.0px,#6cc5b1 28.0px 32.7px,#e9213f 32.7px 41.8px,#2a8d6f 41.8px 51.3px,#74807f 51.3px 53.4px,#f7ec3d 53.4px 60.5px,#8dc63f 60.5px 67.6px,#e5692a 67.6px 113.8px,#d22f27 113.8px 167.0px,#98a6d4 167.0px 173.5px,#a6dbd2 173.5px 179.1px,#1878a2 179.1px 187.9px,#9bd5c6 187.9px 192.3px,#fba464 192.3px 197.4px,#7ac143 197.4px 202.5px,#12b37a 202.5px 216.3px,#d5622c 216.3px 225.4px,#98a6d4 225.4px 227.0px)"></div>
<div class="r" style="left:1367.5px;top:1187.8px;width:227.0px;height:30.4px;background:linear-gradient(90deg,#5cc8e8 0.0px 25.0px,#a6cf4e 25.0px 28.0px,#6cc5b1 28.0px 34.7px,#e9213f 34.7px 43.8px,#2a8d6f 43.8px 48.9px,#7087c8 48.9px 53.4px,#f7ec3d 53.4px 60.5px,#8dc63f 60.5px 67.6px,#e5692a 67.6px 116.3px,#d22f27 116.3px 171.6px,#98a6d4 171.6px 178.1px,#a6dbd2 178.1px 183.2px,#163f72 183.2px 185.2px,#1878a2 185.2px 192.3px,#9bd5c6 192.3px 195.0px,#fba464 195.0px 199.8px,#7ac143 199.8px 204.5px,#12b37a 204.5px 216.3px,#d5622c 216.3px 225.4px,#98a6d4 225.4px 227.0px)"></div>
<div class="r" style="left:1367.5px;top:1223.4px;width:227.0px;height:31.7px;background:linear-gradient(90deg,#5cc8e8 0.0px 28.0px,#6cc5b1 28.0px 34.7px,#e9213f 34.7px 41.2px,#58a845 41.2px 43.8px,#2a8d6f 43.8px 50.3px,#74807f 50.3px 53.4px,#84cfee 53.4px 58.0px,#f7ec3d 58.0px 62.5px,#8dc63f 62.5px 69.6px,#e5692a 69.6px 116.3px,#d22f27 116.3px 162.5px,#98a6d4 162.5px 169.6px,#a6dbd2 169.6px 174.1px,#1878a2 174.1px 187.9px,#9bd5c6 187.9px 191.3px,#fba464 191.3px 197.4px,#7ac143 197.4px 202.5px,#12b37a 202.5px 216.3px,#d5622c 216.3px 225.4px,#98a6d4 225.4px 227.0px)"></div>
<div class="r" style="left:1367.5px;top:1257.7px;width:227.0px;height:33.0px;background:linear-gradient(90deg,#5cc8e8 0.0px 25.0px,#6cc5b1 25.0px 34.7px,#e9213f 34.7px 43.8px,#2a8d6f 43.8px 51.3px,#74807f 51.3px 55.4px,#b4dc8c 55.4px 60.5px,#f7ec3d 60.5px 62.9px,#8dc63f 62.9px 71.6px,#e5692a 71.6px 116.3px,#d22f27 116.3px 162.5px,#98a6d4 162.5px 171.6px,#a6dbd2 171.6px 174.1px,#163f72 174.1px 176.5px,#1878a2 176.5px 185.2px,#9bd5c6 185.2px 190.3px,#fba464 190.3px 197.4px,#7ac143 197.4px 202.5px,#12b37a 202.5px 216.3px,#d5622c 216.3px 225.4px,#98a6d4 225.4px 227.0px)"></div>
<div class="r" style="left:1367.5px;top:1293.3px;width:227.0px;height:33.0px;background:linear-gradient(90deg,#5cc8e8 0.0px 21.9px,#a6cf4e 21.9px 26.0px,#6cc5b1 26.0px 32.7px,#e9213f 32.7px 39.2px,#2a8d6f 39.2px 44.2px,#84cfee 44.2px 48.9px,#f7ec3d 48.9px 56.0px,#8dc63f 56.0px 60.5px,#e5692a 60.5px 111.6px,#d22f27 111.6px 176.1px,#98a6d4 176.1px 181.2px,#a6dbd2 181.2px 185.8px,#1878a2 185.8px 192.3px,#9bd5c6 192.3px 195.0px,#fba464 195.0px 199.8px,#7ac143 199.8px 204.5px,#12b37a 204.5px 216.3px,#d5622c 216.3px 225.4px,#98a6d4 225.4px 227.0px)"></div>
<div class="r" style="left:1367.5px;top:1328.9px;width:227.0px;height:33.0px;background:linear-gradient(90deg,#5cc8e8 0.0px 25.0px,#6cc5b1 25.0px 34.7px,#e9213f 34.7px 41.2px,#58a845 41.2px 43.8px,#2a8d6f 43.8px 48.9px,#74807f 48.9px 53.4px,#f7ec3d 53.4px 60.5px,#8dc63f 60.5px 67.6px,#e5692a 67.6px 113.8px,#d22f27 113.8px 164.3px,#98a6d4 164.3px 174.1px,#a6dbd2 174.1px 176.5px,#1878a2 176.5px 187.9px,#9bd5c6 187.9px 192.3px,#fba464 192.3px 197.4px,#7ac143 197.4px 202.5px,#12b37a 202.5px 216.3px,#d5622c 216.3px 225.4px,#98a6d4 225.4px 227.0px)"></div>
<div class="r" style="left:1367.5px;top:1364.5px;width:227.0px;height:31.7px;background:linear-gradient(90deg,#5cc8e8 0.0px 27.6px,#a6cf4e 27.6px 30.0px,#6cc5b1 30.0px 37.1px,#e9213f 37.1px 43.8px,#2a8d6f 43.8px 51.3px,#74807f 51.3px 55.4px,#b4dc8c 55.4px 60.5px,#f7ec3d 60.5px 64.9px,#8dc63f 64.9px 69.6px,#e5692a 69.6px 113.8px,#d22f27 113.8px 167.0px,#98a6d4 167.0px 173.5px,#a6dbd2 173.5px 178.5px,#1878a2 178.5px 187.9px,#9bd5c6 187.9px 192.3px,#fba464 192.3px 197.4px,#7ac143 197.4px 202.5px,#12b37a 202.5px 216.3px,#d5622c 216.3px 225.4px,#98a6d4 225.4px 227.0px)"></div>
<div class="r" style="left:1367.5px;top:1401.4px;width:227.0px;height:30.4px;background:linear-gradient(90deg,#5cc8e8 0.0px 27.6px,#a6cf4e 27.6px 30.0px,#6cc5b1 30.0px 37.1px,#e9213f 37.1px 43.8px,#2a8d6f 43.8px 51.3px,#74807f 51.3px 55.4px,#b4dc8c 55.4px 60.5px,#f7ec3d 60.5px 64.9px,#8dc63f 64.9px 69.6px,#e5692a 69.6px 113.8px,#d22f27 113.8px 169.6px,#98a6d4 169.6px 173.5px,#a6dbd2 173.5px 178.5px,#1878a2 178.5px 187.9px,#9bd5c6 187.9px 192.3px,#fba464 192.3px 197.4px,#7ac143 197.4px 202.5px,#12b37a 202.5px 216.3px,#d5622c 216.3px 225.4px,#98a6d4 225.4px 227.0px)"></div>
<div class="r" style="left:1367.5px;top:1437.1px;width:227.0px;height:31.7px;background:linear-gradient(90deg,#5cc8e8 0.0px 33.1px,#6cc5b1 33.1px 39.6px,#e9213f 39.6px 46.3px,#58a845 46.3px 48.3px,#2a8d6f 48.3px 54.4px,#74807f 54.4px 57.4px,#84cfee 57.4px 62.5px,#f7ec3d 62.5px 67.6px,#8dc63f 67.6px 74.7px,#e5692a 74.7px 113.8px,#d22f27 113.8px 167.0px,#98a6d4 167.0px 173.5px,#a6dbd2 173.5px 179.1px,#1878a2 179.1px 187.9px,#9bd5c6 187.9px 191.3px,#fba464 191.3px 197.4px,#7ac143 197.4px 202.5px,#12b37a 202.5px 216.3px,#d5622c 216.3px 225.4px,#98a6d4 225.4px 227.0px)"></div>
<div class="r" style="left:1367.5px;top:1471.4px;width:227.0px;height:33.0px;background:linear-gradient(90deg,#5cc8e8 0.0px 30.0px,#6cc5b1 30.0px 37.1px,#e9213f 37.1px 46.3px,#2a8d6f 46.3px 55.4px,#84cfee 55.4px 59.4px,#f7ec3d 59.4px 64.9px,#8dc63f 64.9px 71.6px,#e5692a 71.6px 113.8px,#d22f27 113.8px 164.3px,#98a6d4 164.3px 174.1px,#a6dbd2 174.1px 176.5px,#1878a2 176.5px 187.9px,#9bd5c6 187.9px 192.3px,#fba464 192.3px 197.4px,#7ac143 197.4px 202.5px,#12b37a 202.5px 216.3px,#d5622c 216.3px 225.4px,#98a6d4 225.4px 227.0px)"></div>
<div class="r" style="left:1367.5px;top:1507.0px;width:227.0px;height:33.0px;background:linear-gradient(90deg,#5cc8e8 0.0px 32.7px,#a6cf4e 32.7px 35.1px,#6cc5b1 35.1px 43.8px,#e9213f 43.8px 48.9px,#2a8d6f 48.9px 55.4px,#74807f 55.4px 59.4px,#84cfee 59.4px 62.5px,#f7ec3d 62.5px 69.6px,#8dc63f 69.6px 74.7px,#e5692a 74.7px 113.8px,#d22f27 113.8px 160.3px,#98a6d4 160.3px 167.0px,#a6dbd2 167.0px 171.6px,#1878a2 171.6px 183.2px,#9bd5c6 183.2px 187.9px,#fba464 187.9px 195.0px,#7ac143 195.0px 199.8px,#12b37a 199.8px 214.0px,#d5622c 214.0px 225.4px,#98a6d4 225.4px 227.0px)"></div>
<div class="r" style="left:1367.5px;top:1542.6px;width:227.0px;height:33.0px;background:linear-gradient(90deg,#5cc8e8 0.0px 43.2px,#a6cf4e 43.2px 47.3px,#6cc5b1 47.3px 53.4px,#e9213f 53.4px 58.0px,#2a8d6f 58.0px 64.9px,#74807f 64.9px 69.6px,#84cfee 69.6px 74.7px,#f7ec3d 74.7px 79.1px,#8dc63f 79.1px 88.5px,#e5692a 88.5px 123.4px,#d22f27 123.4px 162.5px,#98a6d4 162.5px 169.6px,#a6dbd2 169.6px 176.5px,#1878a2 176.5px 183.2px,#9bd5c6 183.2px 188.3px,#f58466 188.3px 195.0px,#7ac143 195.0px 197.4px,#12b37a 197.4px 209.6px,#d5622c 209.6px 225.4px,#98a6d4 225.4px 227.0px)"></div>
<div class="pf pn" style="left:1608.7px;top:85.3px;width:236.1px;height:1493.1px"></div>
<div class="r" style="left:1610.7px;top:85.3px;width:233.1px;height:33.0px;background:linear-gradient(90deg,#5cc8e8 0.0px 32.9px,#a6cf4e 32.9px 37.9px,#ef4623 37.9px 44.6px,#2a8d6f 44.6px 54.6px,#84cfee 54.6px 58.8px,#f7ec3d 58.8px 64.3px,#8dc63f 64.3px 66.7px,#e5692a 66.7px 124.2px,#d22f27 124.2px 176.9px,#98a6d4 176.9px 189.1px,#1878a2 189.1px 200.2px,#58585a 200.2px 201.3px,#fba464 201.3px 205.3px,#7ac143 205.3px 207.3px,#12b37a 207.3px 221.5px,#d5622c 221.5px 228.6px,#b9c0e2 228.6px 233.1px)"></div>
<div class="r" style="left:1610.7px;top:120.9px;width:233.1px;height:33.0px;background:linear-gradient(90deg,#5cc8e8 0.0px 33.5px,#ef4623 33.5px 47.1px,#58a845 47.1px 49.5px,#2a8d6f 49.5px 58.8px,#b4dc8c 58.8px 63.3px,#f7ec3d 63.3px 65.7px,#8dc63f 65.7px 73.0px,#e5692a 73.0px 130.7px,#d22f27 130.7px 176.9px,#98a6d4 176.9px 186.7px,#a6dbd2 186.7px 189.1px,#1878a2 189.1px 197.8px,#58585a 197.8px 200.2px,#fba464 200.2px 205.3px,#7ac143 205.3px 207.3px,#12b37a 207.3px 223.6px,#d5622c 223.6px 228.6px,#b9c0e2 228.6px 233.1px)"></div>
<div class="r" style="left:1610.7px;top:156.5px;width:233.1px;height:31.7px;background:linear-gradient(90deg,#5cc8e8 0.0px 28.8px,#ef4623 28.8px 37.9px,#58a845 37.9px 40.4px,#2a8d6f 40.4px 51.7px,#84cfee 51.7px 53.8px,#f7ec3d 53.8px 59.2px,#8dc63f 59.2px 61.7px,#e5692a 61.7px 121.7px,#d22f27 121.7px 174.9px,#98a6d4 174.9px 189.1px,#1878a2 189.1px 197.8px,#58585a 197.8px 201.3px,#fba464 201.3px 207.3px,#12b37a 207.3px 223.6px,#d5622c 223.6px 228.6px,#b9c0e2 228.6px 233.1px)"></div>
<div class="r" style="left:1610.7px;top:193.4px;width:233.1px;height:30.4px;background:linear-gradient(90deg,#5cc8e8 0.0px 10.1px,#6cc5b1 10.1px 12.2px,#2a8d6f 12.2px 21.7px,#e5692a 21.7px 175.5px,#d22f27 175.5px 226.2px,#fba464 226.2px 231.3px,#d5622c 231.3px 233.1px)"></div>
<div class="r" style="left:1610.7px;top:229.0px;width:233.1px;height:31.7px;background:linear-gradient(90deg,#5cc8e8 0.0px 17.0px,#2a8d6f 17.0px 26.2px,#e5692a 26.2px 198.2px,#d22f27 198.2px 232.1px,#ffffff 232.1px 233.1px)"></div>
<div class="r" style="left:1610.7px;top:263.4px;width:233.1px;height:33.0px;background:linear-gradient(90deg,#5cc8e8 0.0px 12.2px,#2a8d6f 12.2px 19.1px,#e5692a 19.1px 202.7px,#d22f27 202.7px 232.1px,#ffffff 232.1px 233.1px)"></div>
<div class="r" style="left:1610.7px;top:334.6px;width:233.1px;height:33.0px;background:linear-gradient(90deg,#5cc8e8 0.0px 30.8px,#a6cf4e 30.8px 35.5px,#ef4623 35.5px 40.4px,#58a845 40.4px 42.4px,#2a8d6f 42.4px 51.7px,#84cfee 51.7px 56.2px,#f7ec3d 56.2px 61.3px,#8dc63f 61.3px 66.3px,#e5692a 66.3px 110.4px,#d22f27 110.4px 167.8px,#98a6d4 167.8px 182.0px,#1878a2 182.0px 195.2px,#58585a 195.2px 197.2px,#9bd5c6 197.2px 199.2px,#fba464 199.2px 203.3px,#7ac143 203.3px 205.3px,#12b37a 205.3px 226.2px,#d5622c 226.2px 228.6px,#b9c0e2 228.6px 233.1px)"></div>
<div class="r" style="left:1610.7px;top:370.2px;width:233.1px;height:31.7px;background:linear-gradient(90deg,#5cc8e8 0.0px 30.8px,#ef4623 30.8px 42.4px,#2a8d6f 42.4px 51.7px,#84cfee 51.7px 54.2px,#b4dc8c 54.2px 58.8px,#8dc63f 58.8px 66.3px,#e5692a 66.3px 119.5px,#d22f27 119.5px 174.9px,#98a6d4 174.9px 184.0px,#1878a2 184.0px 197.8px,#fba464 197.8px 207.3px,#12b37a 207.3px 226.2px,#d5622c 226.2px 228.6px,#b9c0e2 228.6px 233.1px)"></div>
<div class="r" style="left:1610.7px;top:442.7px;width:233.1px;height:31.7px;background:linear-gradient(90deg,#5cc8e8 0.0px 28.8px,#ef4623 28.8px 37.9px,#58a845 37.9px 40.4px,#2a8d6f 40.4px 47.5px,#84cfee 47.5px 49.5px,#f7ec3d 49.5px 54.6px,#8dc63f 54.6px 57.2px,#e5692a 57.2px 98.8px,#d22f27 98.8px 156.0px,#98a6d4 156.0px 172.9px,#1878a2 172.9px 188.7px,#fba464 188.7px 203.3px,#7ac143 203.3px 205.3px,#12b37a 205.3px 223.6px,#d5622c 223.6px 228.6px,#b9c0e2 228.6px 233.1px)"></div>
<div class="r" style="left:1610.7px;top:477.0px;width:233.1px;height:33.0px;background:linear-gradient(90deg,#5cc8e8 0.0px 28.8px,#ef4623 28.8px 47.1px,#58a845 47.1px 49.5px,#2a8d6f 49.5px 54.6px,#58585a 54.6px 56.6px,#b4dc8c 56.6px 63.3px,#f7ec3d 63.3px 65.7px,#8dc63f 65.7px 71.0px,#e5692a 71.0px 117.1px,#d22f27 117.1px 174.9px,#98a6d4 174.9px 186.7px,#a6dbd2 186.7px 189.1px,#1878a2 189.1px 202.7px,#fba464 202.7px 207.3px,#12b37a 207.3px 223.6px,#d5622c 223.6px 230.7px,#b9c0e2 230.7px 233.1px)"></div>
<div class="r" style="left:1610.7px;top:512.6px;width:233.1px;height:33.0px;background:linear-gradient(90deg,#5cc8e8 0.0px 22.1px,#a6cf4e 22.1px 24.1px,#ef4623 24.1px 35.5px,#58a845 35.5px 42.4px,#6b3a1e 42.4px 45.0px,#b4dc8c 45.0px 51.7px,#8dc63f 51.7px 56.8px,#e5692a 56.8px 126.2px,#d22f27 126.2px 191.1px,#98a6d4 191.1px 198.2px,#a6dbd2 198.2px 200.6px,#1878a2 200.6px 207.3px,#7ac143 207.3px 212.4px,#12b37a 212.4px 226.2px,#d5622c 226.2px 230.7px,#b9c0e2 230.7px 233.1px)"></div>
<div class="r" style="left:1610.7px;top:548.3px;width:233.1px;height:31.7px;background:linear-gradient(90deg,#5cc8e8 0.0px 24.8px,#a6cf4e 24.8px 26.8px,#ef4623 26.8px 31.2px,#2a8d6f 31.2px 37.9px,#84cfee 37.9px 41.0px,#e5692a 41.0px 124.2px,#d22f27 124.2px 195.8px,#98a6d4 195.8px 200.6px,#1878a2 200.6px 207.3px,#7ac143 207.3px 209.4px,#12b37a 209.4px 223.6px,#d5622c 223.6px 230.7px,#b9c0e2 230.7px 233.1px)"></div>
<div class="r" style="left:1610.7px;top:585.2px;width:233.1px;height:30.4px;background:linear-gradient(90deg,#5cc8e8 0.0px 24.1px,#ef4623 24.1px 28.8px,#2a8d6f 28.8px 31.2px,#b4dc8c 31.2px 35.5px,#e5692a 35.5px 126.2px,#d22f27 126.2px 200.2px,#98a6d4 200.2px 205.3px,#1878a2 205.3px 209.4px,#fba464 209.4px 212.4px,#12b37a 212.4px 223.6px,#d5622c 223.6px 230.7px,#b9c0e2 230.7px 233.1px)"></div>
<div class="r" style="left:1610.7px;top:620.8px;width:233.1px;height:31.1px;background:linear-gradient(90deg,#5cc8e8 0.0px 26.2px,#ef4623 26.2px 27.8px,#2a8d6f 27.8px 32.9px,#8dc63f 32.9px 35.9px,#e5692a 35.9px 117.1px,#d22f27 117.1px 191.1px,#98a6d4 191.1px 198.2px,#1878a2 198.2px 207.3px,#fba464 207.3px 209.4px,#12b37a 209.4px 226.2px,#d5622c 226.2px 230.7px,#b9c0e2 230.7px 233.1px)"></div>
<div class="r" style="left:1610.7px;top:655.7px;width:233.1px;height:32.4px;background:linear-gradient(90deg,#ffffff 0.0px 3.4px,#e5692a 3.4px 189.1px,#d22f27 189.1px 226.2px,#d5622c 226.2px 232.1px,#ffffff 232.1px 233.1px)"></div>
<div class="r" style="left:1610.7px;top:690.7px;width:233.1px;height:33.0px;background:linear-gradient(90deg,#5cc8e8 0.0px 17.0px,#6cc5b1 17.0px 19.7px,#ef4623 19.7px 22.1px,#2a8d6f 22.1px 31.2px,#84cfee 31.2px 33.3px,#8dc63f 33.3px 35.9px,#e5692a 35.9px 149.5px,#d22f27 149.5px 209.4px,#1878a2 209.4px 214.4px,#12b37a 214.4px 223.6px,#d5622c 223.6px 230.7px,#b9c0e2 230.7px 233.1px)"></div>
<div class="r" style="left:1610.7px;top:726.3px;width:233.1px;height:33.0px;background:linear-gradient(90deg,#5cc8e8 0.0px 17.0px,#6cc5b1 17.0px 19.7px,#ef4623 19.7px 24.1px,#2a8d6f 24.1px 31.2px,#8dc63f 31.2px 33.3px,#e5692a 33.3px 156.6px,#d22f27 156.6px 205.3px,#a6dbd2 205.3px 209.4px,#12b37a 209.4px 221.5px,#d5622c 221.5px 230.7px,#b9c0e2 230.7px 233.1px)"></div>
<div class="r" style="left:1610.7px;top:761.9px;width:233.1px;height:31.7px;background:linear-gradient(90deg,#5cc8e8 0.0px 19.7px,#ef4623 19.7px 24.1px,#2a8d6f 24.1px 30.8px,#8dc63f 30.8px 35.9px,#e5692a 35.9px 138.4px,#d22f27 138.4px 205.3px,#1878a2 205.3px 212.4px,#12b37a 212.4px 226.2px,#d5622c 226.2px 230.7px,#b9c0e2 230.7px 233.1px)"></div>
<div class="r" style="left:1610.7px;top:798.8px;width:233.1px;height:30.4px;background:linear-gradient(90deg,#5cc8e8 0.0px 28.8px,#6cc5b1 28.8px 31.2px,#ef4623 31.2px 37.9px,#58a845 37.9px 40.4px,#2a8d6f 40.4px 45.0px,#6b3a1e 45.0px 47.5px,#b4dc8c 47.5px 54.2px,#f7ec3d 54.2px 56.8px,#8dc63f 56.8px 64.3px,#e5692a 64.3px 93.7px,#d22f27 93.7px 142.4px,#98a6d4 142.4px 158.2px,#a6dbd2 158.2px 161.1px,#1878a2 161.1px 186.7px,#58585a 186.7px 193.1px,#fba464 193.1px 196.2px,#7ac143 196.2px 198.2px,#12b37a 198.2px 216.9px,#d5622c 216.9px 228.6px,#b9c0e2 228.6px 233.1px)"></div>
<div class="r" style="left:1610.7px;top:834.4px;width:233.1px;height:31.7px;background:linear-gradient(90deg,#5cc8e8 0.0px 28.8px,#ef4623 28.8px 42.4px,#2a8d6f 42.4px 49.5px,#6b3a1e 49.5px 51.7px,#f7ec3d 51.7px 59.2px,#8dc63f 59.2px 64.3px,#e5692a 64.3px 112.6px,#d22f27 112.6px 160.7px,#98a6d4 160.7px 172.9px,#1878a2 172.9px 190.7px,#58585a 190.7px 193.1px,#fba464 193.1px 197.8px,#7ac143 197.8px 202.7px,#12b37a 202.7px 219.1px,#d5622c 219.1px 228.6px,#b9c0e2 228.6px 233.1px)"></div>
<div class="r" style="left:1610.7px;top:868.8px;width:233.1px;height:33.0px;background:linear-gradient(90deg,#5cc8e8 0.0px 22.1px,#a6cf4e 22.1px 26.8px,#ef4623 26.8px 37.9px,#58a845 37.9px 40.4px,#2a8d6f 40.4px 45.0px,#b4dc8c 45.0px 49.5px,#f7ec3d 49.5px 54.2px,#8dc63f 54.2px 59.2px,#e5692a 59.2px 98.8px,#d22f27 98.8px 156.6px,#98a6d4 156.6px 170.4px,#a6dbd2 170.4px 172.9px,#1878a2 172.9px 191.1px,#58585a 191.1px 196.2px,#fba464 196.2px 203.3px,#7ac143 203.3px 205.3px,#12b37a 205.3px 223.6px,#d5622c 223.6px 228.6px,#b9c0e2 228.6px 233.1px)"></div>
<div class="r" style="left:1610.7px;top:904.4px;width:233.1px;height:33.0px;background:linear-gradient(90deg,#5cc8e8 0.0px 24.1px,#ef4623 24.1px 33.3px,#58a845 33.3px 37.9px,#2a8d6f 37.9px 42.4px,#6b3a1e 42.4px 45.0px,#f7ec3d 45.0px 51.7px,#8dc63f 51.7px 56.8px,#e5692a 56.8px 103.9px,#d22f27 103.9px 158.7px,#98a6d4 158.7px 174.9px,#a6dbd2 174.9px 177.9px,#1878a2 177.9px 191.1px,#fba464 191.1px 197.8px,#7ac143 197.8px 202.7px,#12b37a 202.7px 223.6px,#d5622c 223.6px 230.7px,#b9c0e2 230.7px 233.1px)"></div>
<div class="r" style="left:1610.7px;top:940.0px;width:233.1px;height:33.0px;background:linear-gradient(90deg,#5cc8e8 0.0px 24.8px,#a6cf4e 24.8px 26.8px,#ef4623 26.8px 31.2px,#2a8d6f 31.2px 35.5px,#f7ec3d 35.5px 40.0px,#8dc63f 40.0px 45.0px,#e5692a 45.0px 105.5px,#d22f27 105.5px 176.9px,#98a6d4 176.9px 191.1px,#1878a2 191.1px 197.8px,#7ac143 197.8px 202.7px,#12b37a 202.7px 223.6px,#d5622c 223.6px 230.7px,#b9c0e2 230.7px 233.1px)"></div>
<div class="r" style="left:1610.7px;top:975.6px;width:233.1px;height:31.7px;background:linear-gradient(90deg,#5cc8e8 0.0px 26.8px,#ef4623 26.8px 30.8px,#2a8d6f 30.8px 35.5px,#8dc63f 35.5px 42.4px,#e5692a 42.4px 107.9px,#d22f27 107.9px 176.9px,#98a6d4 176.9px 189.1px,#1878a2 189.1px 195.8px,#7ac143 195.8px 200.6px,#12b37a 200.6px 226.2px,#d5622c 226.2px 230.7px,#b9c0e2 230.7px 233.1px)"></div>
<div class="r" style="left:1610.7px;top:1012.5px;width:233.1px;height:30.4px;background:linear-gradient(90deg,#5cc8e8 0.0px 26.2px,#ef4623 26.2px 28.8px,#2a8d6f 28.8px 35.5px,#f5ef9a 35.5px 37.9px,#e5692a 37.9px 168.2px,#d22f27 168.2px 209.4px,#98a6d4 209.4px 212.4px,#1878a2 212.4px 214.4px,#7ac143 214.4px 216.9px,#12b37a 216.9px 221.5px,#d5622c 221.5px 230.7px,#b9c0e2 230.7px 233.1px)"></div>
<div class="r" style="left:1610.7px;top:1048.1px;width:233.1px;height:31.7px;background:linear-gradient(90deg,#5cc8e8 0.0px 26.2px,#a6cf4e 26.2px 30.8px,#ef4623 30.8px 33.3px,#2a8d6f 33.3px 40.0px,#6b3a1e 40.0px 42.4px,#f7ec3d 42.4px 45.0px,#e5692a 45.0px 142.4px,#d22f27 142.4px 191.1px,#98a6d4 191.1px 196.2px,#1878a2 196.2px 201.3px,#58585a 201.3px 203.3px,#7ac143 203.3px 205.3px,#12b37a 205.3px 217.5px,#d5622c 217.5px 230.7px,#b9c0e2 230.7px 233.1px)"></div>
<div class="r" style="left:1610.7px;top:1082.4px;width:233.1px;height:33.0px;background:linear-gradient(90deg,#5cc8e8 0.0px 30.8px,#ef4623 30.8px 35.5px,#2a8d6f 35.5px 40.0px,#8dc63f 40.0px 45.0px,#e5692a 45.0px 135.7px,#d22f27 135.7px 191.1px,#a6dbd2 191.1px 196.2px,#1878a2 196.2px 205.3px,#12b37a 205.3px 219.1px,#d5622c 219.1px 230.7px,#b9c0e2 230.7px 233.1px)"></div>
<div class="r" style="left:1610.7px;top:1118.0px;width:233.1px;height:33.0px;background:linear-gradient(90deg,#5cc8e8 0.0px 26.2px,#ef4623 26.2px 42.4px,#2a8d6f 42.4px 49.5px,#6b3a1e 49.5px 51.7px,#b4dc8c 51.7px 55.2px,#f7ec3d 55.2px 61.3px,#8dc63f 61.3px 68.4px,#e5692a 68.4px 96.4px,#d22f27 96.4px 156.0px,#98a6d4 156.0px 170.4px,#a6dbd2 170.4px 172.9px,#1878a2 172.9px 193.1px,#58585a 193.1px 197.8px,#fba464 197.8px 203.3px,#7ac143 203.3px 205.3px,#12b37a 205.3px 223.6px,#d5622c 223.6px 228.6px,#b9c0e2 228.6px 233.1px)"></div>
<div class="r" style="left:1610.7px;top:1153.7px;width:233.1px;height:31.7px;background:linear-gradient(90deg,#5cc8e8 0.0px 26.2px,#ef4623 26.2px 47.1px,#58a845 47.1px 49.5px,#2a8d6f 49.5px 56.8px,#6b3a1e 56.8px 58.8px,#84cfee 58.8px 62.3px,#f7ec3d 62.3px 68.4px,#8dc63f 68.4px 75.5px,#e5692a 75.5px 114.4px,#d22f27 114.4px 169.8px,#98a6d4 169.8px 179.3px,#1878a2 179.3px 193.1px,#58585a 193.1px 197.8px,#fba464 197.8px 200.6px,#7ac143 200.6px 205.3px,#12b37a 205.3px 223.6px,#d5622c 223.6px 230.7px,#b9c0e2 230.7px 233.1px)"></div>
<div class="r" style="left:1610.7px;top:1190.6px;width:233.1px;height:30.4px;background:linear-gradient(90deg,#5cc8e8 0.0px 24.8px,#a6cf4e 24.8px 26.8px,#ef4623 26.8px 37.9px,#2a8d6f 37.9px 42.4px,#6b3a1e 42.4px 45.0px,#7087c8 45.0px 47.5px,#f7ec3d 47.5px 52.1px,#8dc63f 52.1px 54.6px,#e5692a 54.6px 124.2px,#d22f27 124.2px 182.0px,#98a6d4 182.0px 189.1px,#a6dbd2 189.1px 191.5px,#1878a2 191.5px 200.6px,#58585a 200.6px 205.3px,#fba464 205.3px 209.4px,#7ac143 209.4px 212.4px,#12b37a 212.4px 223.6px,#d5622c 223.6px 230.7px,#b9c0e2 230.7px 233.1px)"></div>
<div class="r" style="left:1610.7px;top:1226.2px;width:233.1px;height:31.7px;background:linear-gradient(90deg,#5cc8e8 0.0px 24.1px,#ef4623 24.1px 42.4px,#2a8d6f 42.4px 49.5px,#6b3a1e 49.5px 51.7px,#b4dc8c 51.7px 55.2px,#f7ec3d 55.2px 61.3px,#8dc63f 61.3px 66.3px,#e5692a 66.3px 105.5px,#d22f27 105.5px 156.6px,#98a6d4 156.6px 170.4px,#1878a2 170.4px 191.1px,#58585a 191.1px 195.8px,#fba464 195.8px 200.6px,#7ac143 200.6px 203.3px,#12b37a 203.3px 221.5px,#d5622c 221.5px 228.6px,#b9c0e2 228.6px 233.1px)"></div>
<div class="r" style="left:1610.7px;top:1260.5px;width:233.1px;height:33.0px;background:linear-gradient(90deg,#5cc8e8 0.0px 24.1px,#ef4623 24.1px 45.0px,#2a8d6f 45.0px 51.7px,#6b3a1e 51.7px 54.2px,#f7ec3d 54.2px 63.3px,#8dc63f 63.3px 68.4px,#e5692a 68.4px 112.6px,#d22f27 112.6px 163.1px,#98a6d4 163.1px 177.9px,#a6dbd2 177.9px 180.0px,#1878a2 180.0px 193.5px,#58585a 193.5px 200.2px,#fba464 200.2px 207.3px,#12b37a 207.3px 223.6px,#d5622c 223.6px 230.7px,#b9c0e2 230.7px 233.1px)"></div>
<div class="r" style="left:1610.7px;top:1296.1px;width:233.1px;height:33.0px;background:linear-gradient(90deg,#5cc8e8 0.0px 26.2px,#ef4623 26.2px 31.2px,#58a845 31.2px 33.3px,#2a8d6f 33.3px 40.4px,#6b3a1e 40.4px 42.4px,#f7ec3d 42.4px 47.5px,#8dc63f 47.5px 52.1px,#e5692a 52.1px 110.4px,#d22f27 110.4px 184.0px,#98a6d4 184.0px 191.1px,#1878a2 191.1px 205.3px,#fba464 205.3px 209.4px,#7ac143 209.4px 212.4px,#12b37a 212.4px 226.2px,#d5622c 226.2px 230.7px,#b9c0e2 230.7px 233.1px)"></div>
<div class="r" style="left:1610.7px;top:1331.7px;width:233.1px;height:33.0px;background:linear-gradient(90deg,#5cc8e8 0.0px 17.0px,#ef4623 17.0px 22.1px,#b8251c 22.1px 24.1px,#e5692a 24.1px 180.0px,#d22f27 180.0px 212.4px,#1878a2 212.4px 217.5px,#58585a 217.5px 221.1px,#fba464 221.1px 226.2px,#d5622c 226.2px 230.7px,#b9c0e2 230.7px 233.1px)"></div>
<div class="r" style="left:1610.7px;top:1367.3px;width:233.1px;height:31.7px;background:linear-gradient(90deg,#5cc8e8 0.0px 26.2px,#ef4623 26.2px 40.4px,#58a845 40.4px 45.0px,#2a8d6f 45.0px 51.7px,#84cfee 51.7px 56.2px,#f7ec3d 56.2px 61.3px,#8dc63f 61.3px 68.4px,#e5692a 68.4px 114.4px,#d22f27 114.4px 167.8px,#98a6d4 167.8px 180.0px,#a6dbd2 180.0px 182.4px,#1878a2 182.4px 195.2px,#58585a 195.2px 198.2px,#fba464 198.2px 205.3px,#7ac143 205.3px 207.3px,#12b37a 207.3px 223.6px,#d5622c 223.6px 230.7px,#b9c0e2 230.7px 233.1px)"></div>
<div class="r" style="left:1610.7px;top:1404.2px;width:233.1px;height:30.4px;background:linear-gradient(90deg,#5cc8e8 0.0px 14.6px,#ef4623 14.6px 24.1px,#2a8d6f 24.1px 28.8px,#6b3a1e 28.8px 31.2px,#8dc63f 31.2px 33.3px,#e5692a 33.3px 140.4px,#d22f27 140.4px 195.8px,#a6dbd2 195.8px 198.2px,#1878a2 198.2px 205.3px,#58585a 205.3px 212.4px,#fba464 212.4px 221.5px,#12b37a 221.5px 226.2px,#d5622c 226.2px 230.7px,#b9c0e2 230.7px 233.1px)"></div>
<div class="r" style="left:1610.7px;top:1439.9px;width:233.1px;height:31.7px;background:linear-gradient(90deg,#5cc8e8 0.0px 30.8px,#a6cf4e 30.8px 35.5px,#ef4623 35.5px 42.4px,#2a8d6f 42.4px 51.7px,#6b3a1e 51.7px 54.2px,#b4dc8c 54.2px 59.2px,#f7ec3d 59.2px 61.7px,#8dc63f 61.7px 66.3px,#e5692a 66.3px 117.1px,#d22f27 117.1px 174.9px,#98a6d4 174.9px 186.7px,#1878a2 186.7px 193.5px,#fba464 193.5px 202.7px,#7ac143 202.7px 205.3px,#12b37a 205.3px 223.6px,#d5622c 223.6px 228.6px,#b9c0e2 228.6px 233.1px)"></div>
<div class="r" style="left:1610.7px;top:1474.2px;width:233.1px;height:33.0px;background:linear-gradient(90deg,#5cc8e8 0.0px 30.8px,#ef4623 30.8px 45.0px,#58a845 45.0px 47.5px,#2a8d6f 47.5px 56.8px,#7087c8 56.8px 59.2px,#b4dc8c 59.2px 61.7px,#f7ec3d 61.7px 66.7px,#8dc63f 66.7px 71.0px,#e5692a 71.0px 119.5px,#d22f27 119.5px 167.8px,#98a6d4 167.8px 177.9px,#a6dbd2 177.9px 180.0px,#1878a2 180.0px 193.5px,#9bd5c6 193.5px 196.2px,#fba464 196.2px 205.3px,#7ac143 205.3px 207.3px,#12b37a 207.3px 221.5px,#d5622c 221.5px 230.7px,#b9c0e2 230.7px 233.1px)"></div>
<div class="r" style="left:1610.7px;top:1509.8px;width:233.1px;height:33.0px;background:linear-gradient(90deg,#5cc8e8 0.0px 30.8px,#a6cf4e 30.8px 33.3px,#6cc5b1 33.3px 40.0px,#74807f 40.0px 42.4px,#2a8d6f 42.4px 49.5px,#8dc63f 49.5px 51.7px,#e5692a 51.7px 146.9px,#d22f27 146.9px 197.8px,#98a6d4 197.8px 200.6px,#1878a2 200.6px 205.3px,#fba464 205.3px 214.4px,#12b37a 214.4px 226.2px,#d5622c 226.2px 230.7px,#b9c0e2 230.7px 233.1px)"></div>
<div class="r" style="left:1610.7px;top:1545.4px;width:233.1px;height:33.0px;background:linear-gradient(90deg,#5cc8e8 0.0px 12.2px,#ef4623 12.2px 17.0px,#2a8d6f 17.0px 21.7px,#8dc63f 21.7px 24.8px,#e5692a 24.8px 196.2px,#d22f27 196.2px 219.1px,#98a6d4 219.1px 221.1px,#1878a2 221.1px 225.6px,#12b37a 225.6px 228.6px,#d5622c 228.6px 230.7px,#b9c0e2 230.7px 233.1px)"></div>
<svg width="2116" height="2142" viewBox="0 0 2116 2142" style="position:absolute;left:0;top:0" font-family="'Liberation Sans',Arial,sans-serif" fill="#151515">
<text transform="translate(192.3,47.8) scale(1,1.025)" font-size="57" text-anchor="start" font-weight="bold">A</text>
<text transform="translate(1116.0,39.8) scale(1,1.025)" font-size="57" text-anchor="start" font-weight="bold">B</text>
<text transform="translate(303.6,50.3) scale(1,1.025)" font-size="35" text-anchor="middle" font-weight="bold">18S</text>
<text transform="translate(550.7,51.8) scale(1,1.025)" font-size="37" text-anchor="middle" font-weight="bold">Transcripts</text>
<text transform="translate(798.6,54.5) scale(1,1.025)" font-size="37" text-anchor="middle" font-weight="bold">Proteins</text>
<text transform="translate(1252.2,46.3) scale(1,1.025)" font-size="35" text-anchor="middle" font-weight="bold">18S</text>
<text transform="translate(1485.2,51.8) scale(1,1.025)" font-size="37" text-anchor="middle" font-weight="bold">Transcripts</text>
<text transform="translate(1711.4,53.1) scale(1,1.025)" font-size="37" text-anchor="middle" font-weight="bold">Proteins</text>
<text transform="translate(206.2,81.7) scale(1,1.025)" font-size="27" text-anchor="start" font-weight="normal">0%</text>
<text transform="translate(424.5,82.2) scale(1,1.025)" font-size="27" text-anchor="end" font-weight="normal">100%</text>
<text transform="translate(451.3,81.7) scale(1,1.025)" font-size="27" text-anchor="start" font-weight="normal">0%</text>
<text transform="translate(673.0,81.7) scale(1,1.025)" font-size="27" text-anchor="end" font-weight="normal">100%</text>
<text transform="translate(685.6,81.2) scale(1,1.025)" font-size="27" text-anchor="start" font-weight="normal">0%</text>
<text transform="translate(916.3,81.3) scale(1,1.025)" font-size="27" text-anchor="end" font-weight="normal">100%</text>
<text transform="translate(1137.7,72.2) scale(1,1.025)" font-size="27" text-anchor="start" font-weight="normal">0%</text>
<text transform="translate(1359.5,75.8) scale(1,1.025)" font-size="27" text-anchor="end" font-weight="normal">100%</text>
<text transform="translate(1372.8,78.5) scale(1,1.025)" font-size="27" text-anchor="start" font-weight="normal">0%</text>
<text transform="translate(1593.4,78.4) scale(1,1.025)" font-size="27" text-anchor="end" font-weight="normal">100%</text>
<text transform="translate(1608.6,78.5) scale(1,1.025)" font-size="27" text-anchor="start" font-weight="normal">0%</text>
<text transform="translate(1839.9,78.6) scale(1,1.025)" font-size="27" text-anchor="end" font-weight="normal">100%</text>
<text transform="translate(185.3,107.7) scale(1,1.025)" font-size="27.8" text-anchor="end" font-weight="normal">1 50m</text>
<text transform="translate(185.3,143.7) scale(1,1.025)" font-size="27.8" text-anchor="end" font-weight="normal">1 90m</text>
<text transform="translate(185.3,178.9) scale(1,1.025)" font-size="27.8" text-anchor="end" font-weight="normal">1 120m</text>
<text transform="translate(185.3,214.1) scale(1,1.025)" font-size="27.8" text-anchor="end" font-weight="normal">1 200m</text>
<text transform="translate(185.3,249.3) scale(1,1.025)" font-size="27.8" text-anchor="end" font-weight="normal">1 300m</text>
<text transform="translate(185.3,284.5) scale(1,1.025)" font-size="27.8" text-anchor="end" font-weight="normal">1 400m</text>
<text transform="translate(185.3,319.7) scale(1,1.025)" font-size="27.8" text-anchor="end" font-weight="normal">1 600m</text>
<text transform="translate(185.3,355.7) scale(1,1.025)" font-size="27.8" text-anchor="end" font-weight="normal">3 40m</text>
<text transform="translate(185.3,392.2) scale(1,1.025)" font-size="27.8" text-anchor="end" font-weight="normal">3 60m</text>
<text transform="translate(185.3,428.6) scale(1,1.025)" font-size="27.8" text-anchor="end" font-weight="normal">3 80m</text>
<text transform="translate(185.3,464.6) scale(1,1.025)" font-size="27.8" text-anchor="end" font-weight="normal">3 120m</text>
<text transform="translate(185.3,499.8) scale(1,1.025)" font-size="27.8" text-anchor="end" font-weight="normal">3 150m</text>
<text transform="translate(185.3,535.9) scale(1,1.025)" font-size="27.8" text-anchor="end" font-weight="normal">3 200m</text>
<text transform="translate(185.3,573.1) scale(1,1.025)" font-size="27.8" text-anchor="end" font-weight="normal">3 250m</text>
<text transform="translate(185.3,608.3) scale(1,1.025)" font-size="27.8" text-anchor="end" font-weight="normal">3 300m</text>
<text transform="translate(185.3,643.5) scale(1,1.025)" font-size="27.8" text-anchor="end" font-weight="normal">3 400m</text>
<text transform="translate(185.3,678.7) scale(1,1.025)" font-size="27.8" text-anchor="end" font-weight="normal">3 500m</text>
<text transform="translate(185.3,713.9) scale(1,1.025)" font-size="27.8" text-anchor="end" font-weight="normal">3 550m</text>
<text transform="translate(185.3,749.1) scale(1,1.025)" font-size="27.8" text-anchor="end" font-weight="normal">3 600m</text>
<text transform="translate(185.3,784.3) scale(1,1.025)" font-size="27.8" text-anchor="end" font-weight="normal">3 800m</text>
<text transform="translate(185.3,819.7) scale(1,1.025)" font-size="27.8" text-anchor="end" font-weight="normal">5 20m</text>
<text transform="translate(185.3,854.9) scale(1,1.025)" font-size="27.8" text-anchor="end" font-weight="normal">5 50m</text>
<text transform="translate(185.3,890.3) scale(1,1.025)" font-size="27.8" text-anchor="end" font-weight="normal">5 80m</text>
<text transform="translate(185.3,922.2) scale(1,1.025)" font-size="27.8" text-anchor="end" font-weight="normal">5 120m</text>
<text transform="translate(185.3,959.4) scale(1,1.025)" font-size="27.8" text-anchor="end" font-weight="normal">5 200m</text>
<text transform="translate(185.3,994.6) scale(1,1.025)" font-size="27.8" text-anchor="end" font-weight="normal">5 300m</text>
<text transform="translate(185.3,1033.2) scale(1,1.025)" font-size="27.8" text-anchor="end" font-weight="normal">5 400m</text>
<text transform="translate(185.3,1068.2) scale(1,1.025)" font-size="27.8" text-anchor="end" font-weight="normal">5 500m</text>
<text transform="translate(185.3,1104.8) scale(1,1.025)" font-size="27.8" text-anchor="end" font-weight="normal">5 600m</text>
<text transform="translate(185.3,1140.8) scale(1,1.025)" font-size="27.8" text-anchor="end" font-weight="normal">6 40m</text>
<text transform="translate(185.3,1176.0) scale(1,1.025)" font-size="27.8" text-anchor="end" font-weight="normal">6 80m</text>
<text transform="translate(185.3,1213.2) scale(1,1.025)" font-size="27.8" text-anchor="end" font-weight="normal">6 200m</text>
<text transform="translate(185.3,1248.5) scale(1,1.025)" font-size="27.8" text-anchor="end" font-weight="normal">8 40m</text>
<text transform="translate(185.3,1287.0) scale(1,1.025)" font-size="27.8" text-anchor="end" font-weight="normal">8 70m</text>
<text transform="translate(185.3,1325.1) scale(1,1.025)" font-size="27.8" text-anchor="end" font-weight="normal">8 200m</text>
<text transform="translate(185.3,1358.2) scale(1,1.025)" font-size="27.8" text-anchor="end" font-weight="normal">9 40m</text>
<text transform="translate(185.3,1394.2) scale(1,1.025)" font-size="27.8" text-anchor="end" font-weight="normal">9 70m</text>
<text transform="translate(185.3,1429.4) scale(1,1.025)" font-size="27.8" text-anchor="end" font-weight="normal">9 380m</text>
<text transform="translate(185.3,1463.8) scale(1,1.025)" font-size="27.8" text-anchor="end" font-weight="normal">12 40m</text>
<text transform="translate(185.3,1499.0) scale(1,1.025)" font-size="27.8" text-anchor="end" font-weight="normal">12 120m</text>
<text transform="translate(185.3,1539.5) scale(1,1.025)" font-size="27.8" text-anchor="end" font-weight="normal">12 300m</text>
<text transform="translate(185.3,1573.6) scale(1,1.025)" font-size="27.8" text-anchor="end" font-weight="normal">12 1900m</text>
<text transform="translate(21.7,188.3) rotate(-90) scale(1,1.06)" font-size="28" text-anchor="middle">St. 1</text>
<rect x="32.1" y="84.8" width="3" height="232.8" fill="#1c1c1c"/>
<text transform="translate(21.7,564.6) rotate(-90) scale(1,1.06)" font-size="28" text-anchor="middle">St. 3</text>
<rect x="32.2" y="333.3" width="3" height="449.3" fill="#1c1c1c"/>
<text transform="translate(21.7,953.8) rotate(-90) scale(1,1.06)" font-size="28" text-anchor="middle">St. 5</text>
<rect x="32.5" y="805.7" width="3" height="285.7" fill="#1c1c1c"/>
<text transform="translate(21.7,1157.3) rotate(-90) scale(1,1.06)" font-size="28" text-anchor="middle">St. 6</text>
<rect x="32.7" y="1121.3" width="3" height="79.9" fill="#1c1c1c"/>
<text transform="translate(21.7,1265.4) rotate(-90) scale(1,1.06)" font-size="28" text-anchor="middle">St. 8</text>
<rect x="32.8" y="1226.9" width="3" height="79.9" fill="#1c1c1c"/>
<text transform="translate(21.7,1369.8) rotate(-90) scale(1,1.06)" font-size="30" text-anchor="middle">St. 9</text>
<rect x="32.8" y="1333.0" width="3" height="80.4" fill="#1c1c1c"/>
<text transform="translate(21.7,1496.8) rotate(-90) scale(1,1.06)" font-size="28" text-anchor="middle">St. 12</text>
<rect x="32.9" y="1436.3" width="3" height="131.2" fill="#1c1c1c"/>
<rect x="200.2" y="1621.0" width="14" height="14" fill="#5b9bd5"/>
<text transform="translate(221.9,1637.2) scale(1,1.025)" font-size="27.75" text-anchor="start" font-weight="normal">Amoebophryaceae</text>
<rect x="200.2" y="1657.0" width="14" height="14" fill="#a5a5a5"/>
<text transform="translate(221.9,1673.2) scale(1,1.025)" font-size="27.75" text-anchor="start" font-weight="normal">Amphidomataceae</text>
<rect x="200.2" y="1693.0" width="14" height="14" fill="#4472c4"/>
<text transform="translate(221.9,1709.2) scale(1,1.025)" font-size="27.75" text-anchor="start" font-weight="normal">Ceratiaceae</text>
<rect x="200.2" y="1729.0" width="14" height="14" fill="#62c08b"/>
<text transform="translate(221.9,1745.2) scale(1,1.025)" font-size="27.75" text-anchor="start" font-weight="normal">Crypthecodiniaceae</text>
<rect x="200.2" y="1765.0" width="14" height="14" fill="#636363"/>
<text transform="translate(221.9,1781.2) scale(1,1.025)" font-size="27.75" text-anchor="start" font-weight="normal">Goniodomataceae</text>
<rect x="200.2" y="1801.0" width="14" height="14" fill="#ffc000"/>
<text transform="translate(221.9,1817.2) scale(1,1.025)" font-size="27.75" text-anchor="start" font-weight="normal">Gymnodiniaceae</text>
<rect x="200.2" y="1837.0" width="14" height="14" fill="#a52a31"/>
<text transform="translate(221.9,1853.2) scale(1,1.025)" font-size="27.75" text-anchor="start" font-weight="normal">Kareniaceae</text>
<rect x="200.2" y="1873.0" width="14" height="14" fill="#b7b7b7"/>
<text transform="translate(221.9,1889.2) scale(1,1.025)" font-size="27.75" text-anchor="start" font-weight="normal">Lessardiaceae</text>
<rect x="200.2" y="1909.0" width="14" height="14" fill="#698ed0"/>
<text transform="translate(221.9,1925.2) scale(1,1.025)" font-size="27.75" text-anchor="start" font-weight="normal">Ostreopsidaceae</text>
<rect x="200.2" y="1945.0" width="14" height="14" fill="#327dc2"/>
<text transform="translate(221.9,1961.2) scale(1,1.025)" font-size="27.75" text-anchor="start" font-weight="normal">Oxyphysiaceae</text>
<rect x="200.2" y="1981.0" width="14" height="14" fill="#f1975a"/>
<text transform="translate(221.9,1997.2) scale(1,1.025)" font-size="27.75" text-anchor="start" font-weight="normal">Prorocentraceae</text>
<rect x="200.2" y="2017.0" width="14" height="14" fill="#335aa1"/>
<text transform="translate(221.9,2033.2) scale(1,1.025)" font-size="27.75" text-anchor="start" font-weight="normal">Protoperidiniaceae</text>
<rect x="200.2" y="2053.0" width="14" height="14" fill="#9dc3e6"/>
<text transform="translate(221.9,2069.2) scale(1,1.025)" font-size="27.75" text-anchor="start" font-weight="normal">Symbiodiniaceae</text>
<rect x="200.2" y="2089.0" width="14" height="14" fill="#474747"/>
<text transform="translate(221.9,2105.2) scale(1,1.025)" font-size="27.75" text-anchor="start" font-weight="normal">Tovelliaceae</text>
<rect x="200.2" y="2125.0" width="14" height="14" fill="#bfbfbf"/>
<text transform="translate(221.9,2141.2) scale(1,1.025)" font-size="27.75" text-anchor="start" font-weight="normal">NA</text>
<rect x="601.7" y="1621.0" width="14" height="14" fill="#ed7d31"/>
<text transform="translate(623.0,1637.2) scale(1,1.025)" font-size="27.75" text-anchor="start" font-weight="normal">Amphidiniopsidaceae</text>
<rect x="601.7" y="1657.0" width="14" height="14" fill="#ffc000"/>
<text transform="translate(623.0,1673.2) scale(1,1.025)" font-size="27.75" text-anchor="start" font-weight="normal">Blastodiniaceae</text>
<rect x="601.7" y="1693.0" width="14" height="14" fill="#70ad47"/>
<text transform="translate(623.0,1709.2) scale(1,1.025)" font-size="27.75" text-anchor="start" font-weight="normal">Chytriodiniaceae</text>
<rect x="601.7" y="1729.0" width="14" height="14" fill="#d9c9c3"/>
<text transform="translate(623.0,1745.2) scale(1,1.025)" font-size="27.75" text-anchor="start" font-weight="normal">Dinophysiaceae</text>
<rect x="601.7" y="1765.0" width="14" height="14" fill="#997328"/>
<text transform="translate(623.0,1781.2) scale(1,1.025)" font-size="27.75" text-anchor="start" font-weight="normal">Gonyaulacaceae</text>
<rect x="601.7" y="1801.0" width="14" height="14" fill="#8b55a6"/>
<text transform="translate(623.0,1817.2) scale(1,1.025)" font-size="27.75" text-anchor="start" font-weight="normal">Heterocapsaceae</text>
<rect x="601.7" y="1837.0" width="14" height="14" fill="#f1975a"/>
<text transform="translate(623.0,1853.2) scale(1,1.025)" font-size="27.75" text-anchor="start" font-weight="normal">Kryptoperidiniaceae</text>
<rect x="601.7" y="1873.0" width="14" height="14" fill="#e8393c"/>
<text transform="translate(623.0,1889.2) scale(1,1.025)" font-size="27.75" text-anchor="start" font-weight="normal">Noctilucaceae</text>
<rect x="601.7" y="1909.0" width="14" height="14" fill="#8cc168"/>
<text transform="translate(623.0,1925.2) scale(1,1.025)" font-size="27.75" text-anchor="start" font-weight="normal">Oxyrrhinaceae</text>
<rect x="601.7" y="1945.0" width="14" height="14" fill="#d2601e"/>
<text transform="translate(623.0,1961.2) scale(1,1.025)" font-size="27.75" text-anchor="start" font-weight="normal">Peridiniaceae</text>
<rect x="601.7" y="1981.0" width="14" height="14" fill="#cb9a2c"/>
<text transform="translate(623.0,1997.2) scale(1,1.025)" font-size="27.75" text-anchor="start" font-weight="normal">Protoceratiaceae</text>
<rect x="601.7" y="2017.0" width="14" height="14" fill="#5a5f98"/>
<text transform="translate(623.0,2033.2) scale(1,1.025)" font-size="27.75" text-anchor="start" font-weight="normal">Suessiaceae</text>
<rect x="601.7" y="2053.0" width="14" height="14" fill="#43703a"/>
<text transform="translate(623.0,2069.2) scale(1,1.025)" font-size="27.75" text-anchor="start" font-weight="normal">Thoracosphaeraceae</text>
<rect x="601.7" y="2089.0" width="14" height="14" fill="#db8cbf"/>
<text transform="translate(623.0,2105.2) scale(1,1.025)" font-size="27.75" text-anchor="start" font-weight="normal">Warnowiaceae</text>
<rect x="1059.2" y="1652.8" width="14" height="14" fill="#4b62ae"/>
<text transform="translate(1078.3,1667.8) scale(1,1.025)" font-size="27.8" text-anchor="start" font-weight="normal">Akashiwo</text>
<rect x="1059.2" y="1682.2" width="14" height="14" fill="#f58231"/>
<text transform="translate(1078.3,1697.2) scale(1,1.025)" font-size="27.8" text-anchor="start" font-weight="normal">Ansanella</text>
<rect x="1059.2" y="1711.5" width="14" height="14" fill="#5fae49"/>
<text transform="translate(1078.3,1726.5) scale(1,1.025)" font-size="27.8" text-anchor="start" font-weight="normal">Brandtodinium</text>
<rect x="1059.2" y="1740.9" width="14" height="14" fill="#7186c8"/>
<text transform="translate(1078.3,1755.9) scale(1,1.025)" font-size="27.8" text-anchor="start" font-weight="normal">Dinophysis</text>
<rect x="1059.2" y="1770.2" width="14" height="14" fill="#f8985a"/>
<text transform="translate(1078.3,1785.2) scale(1,1.025)" font-size="27.8" text-anchor="start" font-weight="normal">Goniodoma</text>
<rect x="1059.2" y="1799.6" width="14" height="14" fill="#8dc63f"/>
<text transform="translate(1078.3,1814.6) scale(1,1.025)" font-size="27.8" text-anchor="start" font-weight="normal">Heterocapsa</text>
<rect x="1059.2" y="1829.0" width="14" height="14" fill="#98a6d4"/>
<text transform="translate(1078.3,1844.0) scale(1,1.025)" font-size="27.8" text-anchor="start" font-weight="normal">Kryptoperidinium</text>
<rect x="1059.2" y="1858.3" width="14" height="14" fill="#fbb48a"/>
<text transform="translate(1078.3,1873.3) scale(1,1.025)" font-size="27.8" text-anchor="start" font-weight="normal">Madanidinium</text>
<rect x="1059.2" y="1887.7" width="14" height="14" fill="#4e9a44"/>
<text transform="translate(1078.3,1902.7) scale(1,1.025)" font-size="27.8" text-anchor="start" font-weight="normal">Ornithocercus</text>
<rect x="1059.2" y="1917.0" width="14" height="14" fill="#8595cf"/>
<text transform="translate(1078.3,1932.0) scale(1,1.025)" font-size="27.8" text-anchor="start" font-weight="normal">Pentapharsodinium</text>
<rect x="1059.2" y="1946.4" width="14" height="14" fill="#fba464"/>
<text transform="translate(1078.3,1961.4) scale(1,1.025)" font-size="27.8" text-anchor="start" font-weight="normal">Prorocentrum</text>
<rect x="1059.2" y="1975.8" width="14" height="14" fill="#7ac143"/>
<text transform="translate(1078.3,1990.8) scale(1,1.025)" font-size="27.8" text-anchor="start" font-weight="normal">Pyrodinium</text>
<rect x="1059.2" y="2005.1" width="14" height="14" fill="#a9b4de"/>
<text transform="translate(1078.3,2020.1) scale(1,1.025)" font-size="27.8" text-anchor="start" font-weight="normal">Togula</text>
<rect x="1059.2" y="2034.5" width="14" height="14" fill="#fcc49a"/>
<text transform="translate(1078.3,2049.5) scale(1,1.025)" font-size="27.8" text-anchor="start" font-weight="normal">Zooxanthella</text>
<rect x="1335.7" y="1652.8" width="14" height="14" fill="#5cc8e8"/>
<text transform="translate(1355.7,1667.8) scale(1,1.025)" font-size="27.8" text-anchor="start" font-weight="normal">Alexandrium</text>
<rect x="1335.7" y="1682.2" width="14" height="14" fill="#e9213f"/>
<text transform="translate(1355.7,1697.2) scale(1,1.025)" font-size="27.8" text-anchor="start" font-weight="normal">Azadinium</text>
<rect x="1335.7" y="1711.5" width="14" height="14" fill="#2a8d6f"/>
<text transform="translate(1355.7,1726.5) scale(1,1.025)" font-size="27.8" text-anchor="start" font-weight="normal">Ceratium</text>
<rect x="1335.7" y="1740.9" width="14" height="14" fill="#84cfee"/>
<text transform="translate(1355.7,1755.9) scale(1,1.025)" font-size="27.8" text-anchor="start" font-weight="normal">Durinskia</text>
<rect x="1335.7" y="1770.2" width="14" height="14" fill="#f8ea42"/>
<text transform="translate(1355.7,1785.2) scale(1,1.025)" font-size="27.8" text-anchor="start" font-weight="normal">Gymnodinium</text>
<rect x="1335.7" y="1799.6" width="14" height="14" fill="#a3908a"/>
<text transform="translate(1355.7,1814.6) scale(1,1.025)" font-size="27.8" text-anchor="start" font-weight="normal">Islandinium</text>
<rect x="1335.7" y="1829.0" width="14" height="14" fill="#a3dcf3"/>
<text transform="translate(1355.7,1844.0) scale(1,1.025)" font-size="27.8" text-anchor="start" font-weight="normal">Lessardia</text>
<rect x="1335.7" y="1858.3" width="14" height="14" fill="#f28f7a"/>
<text transform="translate(1355.7,1873.3) scale(1,1.025)" font-size="27.8" text-anchor="start" font-weight="normal">Margalefidinium</text>
<rect x="1335.7" y="1887.7" width="14" height="14" fill="#6f9784"/>
<text transform="translate(1355.7,1902.7) scale(1,1.025)" font-size="27.8" text-anchor="start" font-weight="normal">Paragymnodinium</text>
<rect x="1335.7" y="1917.0" width="14" height="14" fill="#8ed3f0"/>
<text transform="translate(1355.7,1932.0) scale(1,1.025)" font-size="27.8" text-anchor="start" font-weight="normal">Peridinium</text>
<rect x="1335.7" y="1946.4" width="14" height="14" fill="#f2806a"/>
<text transform="translate(1355.7,1961.4) scale(1,1.025)" font-size="27.8" text-anchor="start" font-weight="normal">Protoceratium</text>
<rect x="1335.7" y="1975.8" width="14" height="14" fill="#12b37a"/>
<text transform="translate(1355.7,1990.8) scale(1,1.025)" font-size="27.8" text-anchor="start" font-weight="normal">Scrippsiella</text>
<rect x="1335.7" y="2005.1" width="14" height="14" fill="#aee0f5"/>
<text transform="translate(1355.7,2020.1) scale(1,1.025)" font-size="27.8" text-anchor="start" font-weight="normal">Tripos</text>
<rect x="1335.7" y="2034.5" width="14" height="14" fill="#bfbfbf"/>
<text transform="translate(1355.7,2049.5) scale(1,1.025)" font-size="27.8" text-anchor="start" font-weight="normal">NA</text>
<rect x="1611.5" y="1652.8" width="14" height="14" fill="#a6cf4e"/>
<text transform="translate(1632.0,1667.8) scale(1,1.025)" font-size="27.8" text-anchor="start" font-weight="normal">Amoebophrya</text>
<rect x="1611.5" y="1682.2" width="14" height="14" fill="#2b3a86"/>
<text transform="translate(1632.0,1697.2) scale(1,1.025)" font-size="27.8" text-anchor="start" font-weight="normal">Bispinodinium</text>
<rect x="1611.5" y="1711.5" width="14" height="14" fill="#b5532a"/>
<text transform="translate(1632.0,1726.5) scale(1,1.025)" font-size="27.8" text-anchor="start" font-weight="normal">Chytriodinium</text>
<rect x="1611.5" y="1740.9" width="14" height="14" fill="#b9dc7a"/>
<text transform="translate(1632.0,1755.9) scale(1,1.025)" font-size="27.8" text-anchor="start" font-weight="normal">Gambierdiscus</text>
<rect x="1611.5" y="1770.2" width="14" height="14" fill="#1a6545"/>
<text transform="translate(1632.0,1785.2) scale(1,1.025)" font-size="27.8" text-anchor="start" font-weight="normal">Gymnoxanthella</text>
<rect x="1611.5" y="1799.6" width="14" height="14" fill="#e5692a"/>
<text transform="translate(1632.0,1814.6) scale(1,1.025)" font-size="27.8" text-anchor="start" font-weight="normal">Karenia</text>
<rect x="1611.5" y="1829.0" width="14" height="14" fill="#cfe39b"/>
<text transform="translate(1632.0,1844.0) scale(1,1.025)" font-size="27.8" text-anchor="start" font-weight="normal">Lepidodinium</text>
<rect x="1611.5" y="1858.3" width="14" height="14" fill="#232f6e"/>
<text transform="translate(1632.0,1873.3) scale(1,1.025)" font-size="27.8" text-anchor="start" font-weight="normal">Noctiluca</text>
<rect x="1611.5" y="1887.7" width="14" height="14" fill="#8e3b22"/>
<text transform="translate(1632.0,1902.7) scale(1,1.025)" font-size="27.8" text-anchor="start" font-weight="normal">Paulsenella</text>
<rect x="1611.5" y="1917.0" width="14" height="14" fill="#c6e08c"/>
<text transform="translate(1632.0,1932.0) scale(1,1.025)" font-size="27.8" text-anchor="start" font-weight="normal">Phalachroma</text>
<rect x="1611.5" y="1946.4" width="14" height="14" fill="#2d4b9b"/>
<text transform="translate(1632.0,1961.4) scale(1,1.025)" font-size="27.8" text-anchor="start" font-weight="normal">Protodinium</text>
<rect x="1611.5" y="1975.8" width="14" height="14" fill="#d5622c"/>
<text transform="translate(1632.0,1990.8) scale(1,1.025)" font-size="27.8" text-anchor="start" font-weight="normal">Symbiodinium</text>
<rect x="1611.5" y="2005.1" width="14" height="14" fill="#d8e9ab"/>
<text transform="translate(1632.0,2020.1) scale(1,1.025)" font-size="27.8" text-anchor="start" font-weight="normal">Warnowia</text>
<rect x="1889.0" y="1652.8" width="14" height="14" fill="#6cc5b1"/>
<text transform="translate(1908.0,1667.8) scale(1,1.025)" font-size="27.8" text-anchor="start" font-weight="normal">Amphidinium</text>
<rect x="1889.0" y="1682.2" width="14" height="14" fill="#1591c4"/>
<text transform="translate(1908.0,1697.2) scale(1,1.025)" font-size="27.8" text-anchor="start" font-weight="normal">Blastodinium</text>
<rect x="1889.0" y="1711.5" width="14" height="14" fill="#a07c2c"/>
<text transform="translate(1908.0,1726.5) scale(1,1.025)" font-size="27.8" text-anchor="start" font-weight="normal">Crypthecodinium</text>
<rect x="1889.0" y="1740.9" width="14" height="14" fill="#8fd0bd"/>
<text transform="translate(1908.0,1755.9) scale(1,1.025)" font-size="27.8" text-anchor="start" font-weight="normal">Gonyaulax</text>
<rect x="1889.0" y="1770.2" width="14" height="14" fill="#c36fb3"/>
<text transform="translate(1908.0,1785.2) scale(1,1.025)" font-size="27.8" text-anchor="start" font-weight="normal">Gyrodinium</text>
<rect x="1889.0" y="1799.6" width="14" height="14" fill="#d22f27"/>
<text transform="translate(1908.0,1814.6) scale(1,1.025)" font-size="27.8" text-anchor="start" font-weight="normal">Karlodinium</text>
<rect x="1889.0" y="1829.0" width="14" height="14" fill="#a6dbd2"/>
<text transform="translate(1908.0,1844.0) scale(1,1.025)" font-size="27.8" text-anchor="start" font-weight="normal">Lingulodinium</text>
<rect x="1889.0" y="1858.3" width="14" height="14" fill="#1878a2"/>
<text transform="translate(1908.0,1873.3) scale(1,1.025)" font-size="27.8" text-anchor="start" font-weight="normal">Oxyrrhis</text>
<rect x="1889.0" y="1887.7" width="14" height="14" fill="#58585a"/>
<text transform="translate(1908.0,1902.7) scale(1,1.025)" font-size="27.8" text-anchor="start" font-weight="normal">Pelagodinium</text>
<rect x="1889.0" y="1917.0" width="14" height="14" fill="#9bd5c6"/>
<text transform="translate(1908.0,1932.0) scale(1,1.025)" font-size="27.8" text-anchor="start" font-weight="normal">Polarella</text>
<rect x="1889.0" y="1946.4" width="14" height="14" fill="#18a6dd"/>
<text transform="translate(1908.0,1961.4) scale(1,1.025)" font-size="27.8" text-anchor="start" font-weight="normal">Protoperidinium</text>
<rect x="1889.0" y="1975.8" width="14" height="14" fill="#5d4b9c"/>
<text transform="translate(1908.0,1990.8) scale(1,1.025)" font-size="27.8" text-anchor="start" font-weight="normal">Thoracosphaera</text>
<rect x="1889.0" y="2005.1" width="14" height="14" fill="#a9decf"/>
<text transform="translate(1908.0,2020.1) scale(1,1.025)" font-size="27.8" text-anchor="start" font-weight="normal">Woloszynskia</text>
</svg>
</div></body></html>
